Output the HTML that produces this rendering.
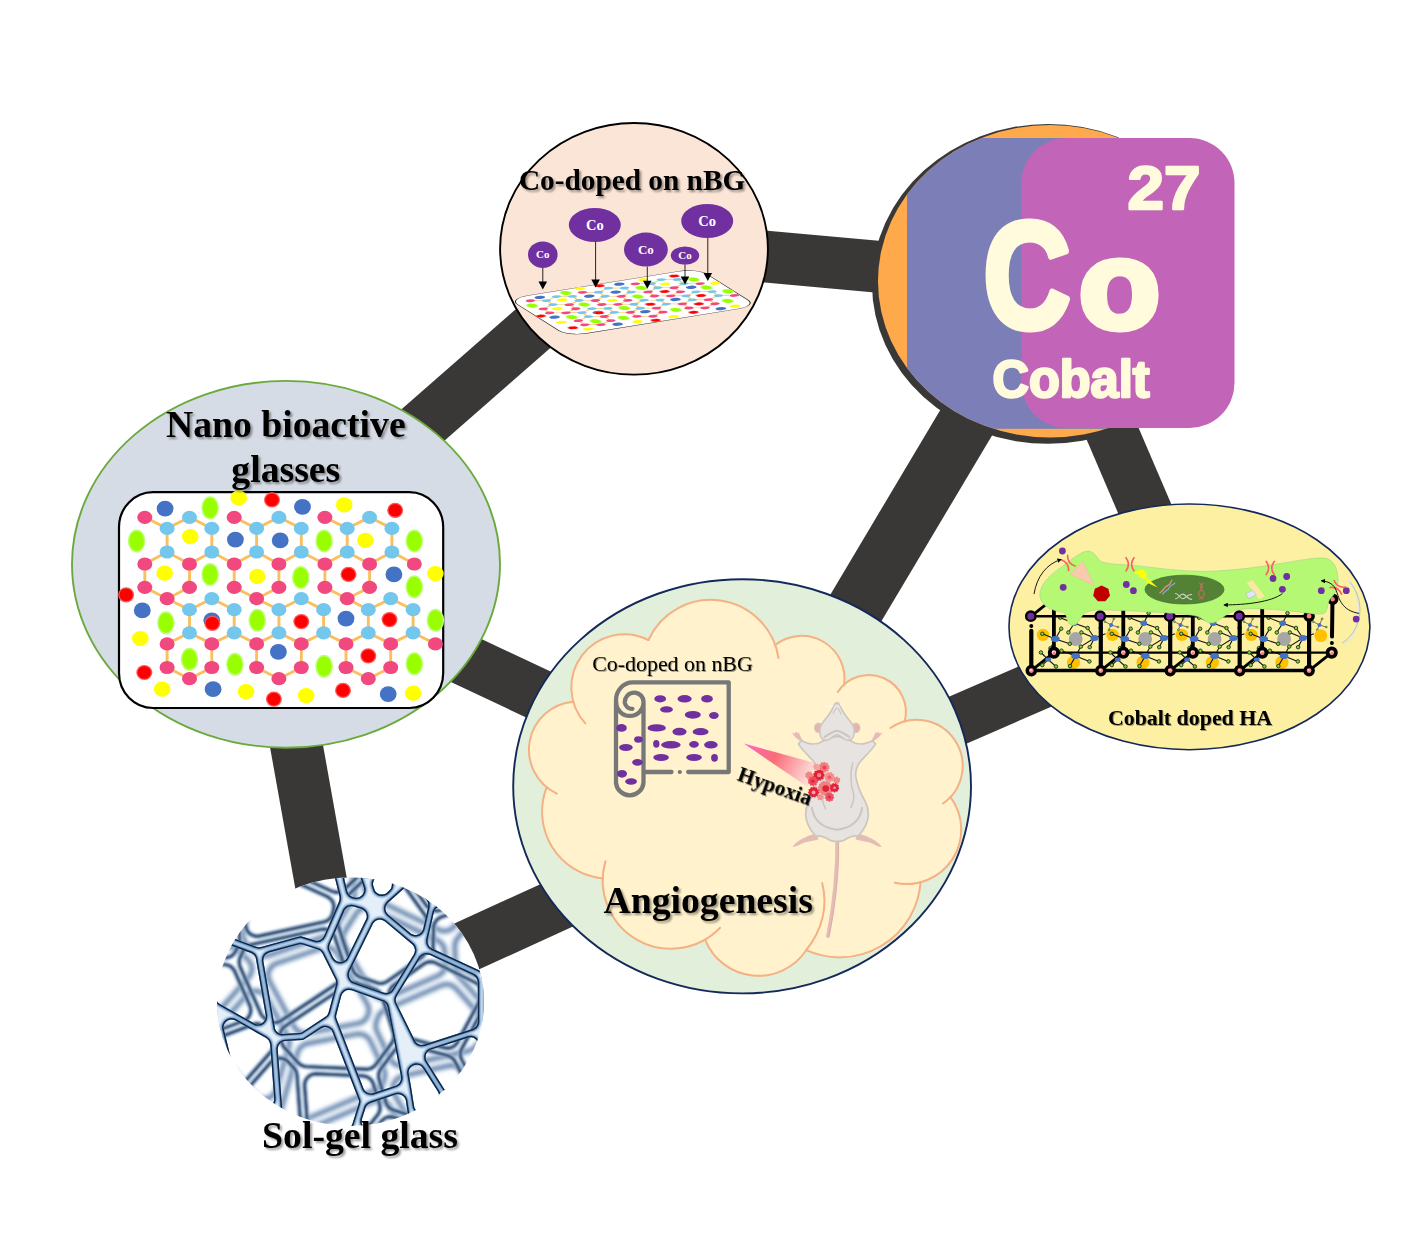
<!DOCTYPE html>
<html lang="en"><head><meta charset="utf-8"><title>Cobalt-doped nano bioactive glass</title>
<style>
html,body{margin:0;padding:0;background:#fff;}
body{width:1409px;height:1237px;overflow:hidden;}
svg{display:block}
text{font-family:"Liberation Serif",serif;}
.b{font-weight:bold}
.sans{font-family:"Liberation Sans",sans-serif;font-weight:bold}
</style></head><body>
<svg width="1409" height="1237" viewBox="0 0 1409 1237">
<defs>
<filter id="tsh" x="-10%" y="-20%" width="125%" height="150%">
  <feGaussianBlur in="SourceAlpha" stdDeviation="1.0"/>
  <feOffset dx="1.7" dy="1.7" result="o"/>
  <feComponentTransfer><feFuncA type="linear" slope="0.4"/></feComponentTransfer>
  <feMerge><feMergeNode/><feMergeNode in="SourceGraphic"/></feMerge>
</filter>
<filter id="tsh2" x="-10%" y="-20%" width="125%" height="150%">
  <feGaussianBlur in="SourceAlpha" stdDeviation="0.7"/>
  <feOffset dx="1.1" dy="1.1" result="o"/>
  <feComponentTransfer><feFuncA type="linear" slope="0.38"/></feComponentTransfer>
  <feMerge><feMergeNode/><feMergeNode in="SourceGraphic"/></feMerge>
</filter>
<filter id="soft" x="-20%" y="-20%" width="140%" height="140%"><feGaussianBlur stdDeviation="0.45"/></filter>
<clipPath id="coclip"><ellipse cx="1050" cy="281.25" rx="172" ry="156.25"/></clipPath><g id="lattice"><g stroke="#fbbf5f" stroke-width="2.9" stroke-linecap="butt"><line x1="34.8" y1="37.3" x2="57.1" y2="48.4"/><line x1="57.1" y1="48.4" x2="79.5" y2="37.3"/><line x1="124.2" y1="37.3" x2="146.6" y2="48.4"/><line x1="146.6" y1="48.4" x2="168.9" y2="37.3"/><line x1="214.9" y1="37.3" x2="237.2" y2="48.4"/><line x1="237.2" y1="48.4" x2="259.6" y2="37.3"/><line x1="79.5" y1="37.3" x2="101.8" y2="48.4"/><line x1="168.9" y1="37.3" x2="191.3" y2="48.4"/><line x1="259.6" y1="37.3" x2="281.9" y2="48.4"/><line x1="57.1" y1="48.4" x2="57.1" y2="72.0"/><line x1="101.8" y1="48.4" x2="101.8" y2="72.0"/><line x1="146.6" y1="48.4" x2="146.6" y2="72.0"/><line x1="191.3" y1="48.4" x2="191.3" y2="72.0"/><line x1="237.2" y1="48.4" x2="237.2" y2="72.0"/><line x1="281.9" y1="48.4" x2="281.9" y2="72.0"/><line x1="57.1" y1="72.0" x2="34.8" y2="84.0"/><line x1="57.1" y1="72.0" x2="79.5" y2="84.0"/><line x1="101.8" y1="72.0" x2="79.5" y2="84.0"/><line x1="101.8" y1="72.0" x2="124.2" y2="84.0"/><line x1="146.6" y1="72.0" x2="124.2" y2="84.0"/><line x1="146.6" y1="72.0" x2="168.9" y2="84.0"/><line x1="191.3" y1="72.0" x2="168.9" y2="84.0"/><line x1="191.3" y1="72.0" x2="214.9" y2="84.0"/><line x1="237.2" y1="72.0" x2="214.9" y2="84.0"/><line x1="237.2" y1="72.0" x2="259.6" y2="84.0"/><line x1="281.9" y1="72.0" x2="259.6" y2="84.0"/><line x1="281.9" y1="72.0" x2="304.3" y2="84.0"/><line x1="34.8" y1="84.0" x2="34.8" y2="107.3"/><line x1="79.5" y1="84.0" x2="79.5" y2="107.3"/><line x1="124.2" y1="84.0" x2="124.2" y2="107.3"/><line x1="168.9" y1="84.0" x2="168.9" y2="107.3"/><line x1="214.9" y1="84.0" x2="214.9" y2="107.3"/><line x1="259.6" y1="84.0" x2="259.6" y2="107.3"/><line x1="34.8" y1="107.3" x2="57.1" y2="118.7"/><line x1="79.5" y1="107.3" x2="57.1" y2="118.7"/><line x1="124.2" y1="107.3" x2="146.6" y2="118.7"/><line x1="168.9" y1="107.3" x2="146.6" y2="118.7"/><line x1="214.9" y1="107.3" x2="237.2" y2="118.7"/><line x1="259.6" y1="107.3" x2="237.2" y2="118.7"/><line x1="57.1" y1="118.7" x2="79.5" y2="129.7"/><line x1="101.8" y1="118.7" x2="79.5" y2="129.7"/><line x1="101.8" y1="118.7" x2="124.2" y2="129.7"/><line x1="146.6" y1="118.7" x2="168.9" y2="129.7"/><line x1="191.3" y1="118.7" x2="168.9" y2="129.7"/><line x1="191.3" y1="118.7" x2="213.6" y2="129.7"/><line x1="237.2" y1="118.7" x2="258.3" y2="129.7"/><line x1="280.7" y1="118.7" x2="258.3" y2="129.7"/><line x1="280.7" y1="118.7" x2="303.1" y2="129.7"/><line x1="79.5" y1="129.7" x2="79.5" y2="152.8"/><line x1="124.2" y1="129.7" x2="124.2" y2="152.8"/><line x1="168.9" y1="129.7" x2="168.9" y2="152.8"/><line x1="213.6" y1="129.7" x2="213.6" y2="152.8"/><line x1="258.3" y1="129.7" x2="258.3" y2="152.8"/><line x1="303.1" y1="129.7" x2="303.1" y2="152.8"/><line x1="79.5" y1="152.8" x2="57.1" y2="163.9"/><line x1="79.5" y1="152.8" x2="101.8" y2="163.9"/><line x1="124.2" y1="152.8" x2="101.8" y2="163.9"/><line x1="124.2" y1="152.8" x2="146.6" y2="163.9"/><line x1="168.9" y1="152.8" x2="146.6" y2="163.9"/><line x1="168.9" y1="152.8" x2="191.3" y2="163.9"/><line x1="213.6" y1="152.8" x2="191.3" y2="163.9"/><line x1="213.6" y1="152.8" x2="236.0" y2="163.9"/><line x1="258.3" y1="152.8" x2="236.0" y2="163.9"/><line x1="258.3" y1="152.8" x2="280.7" y2="163.9"/><line x1="303.1" y1="152.8" x2="280.7" y2="163.9"/><line x1="303.1" y1="152.8" x2="325.4" y2="163.9"/><line x1="57.1" y1="163.9" x2="57.1" y2="187.5"/><line x1="101.8" y1="163.9" x2="101.8" y2="187.5"/><line x1="146.6" y1="163.9" x2="146.6" y2="187.5"/><line x1="191.3" y1="163.9" x2="191.3" y2="187.5"/><line x1="236.0" y1="163.9" x2="236.0" y2="187.5"/><line x1="280.7" y1="163.9" x2="280.7" y2="187.5"/><line x1="57.1" y1="187.5" x2="79.5" y2="198.7"/><line x1="101.8" y1="187.5" x2="79.5" y2="198.7"/><line x1="146.6" y1="187.5" x2="168.9" y2="198.7"/><line x1="191.3" y1="187.5" x2="168.9" y2="198.7"/><line x1="236.0" y1="187.5" x2="258.3" y2="198.7"/><line x1="280.7" y1="187.5" x2="258.3" y2="198.7"/></g><ellipse cx="34.8" cy="37.3" rx="7.5" ry="6.6" fill="#f0487f"/><ellipse cx="79.5" cy="37.3" rx="7.5" ry="6.6" fill="#74c7ec"/><ellipse cx="124.2" cy="37.3" rx="7.5" ry="6.6" fill="#f0487f"/><ellipse cx="168.9" cy="37.3" rx="7.5" ry="6.6" fill="#74c7ec"/><ellipse cx="214.9" cy="37.3" rx="7.5" ry="6.6" fill="#f0487f"/><ellipse cx="259.6" cy="37.3" rx="7.5" ry="6.6" fill="#74c7ec"/><ellipse cx="57.1" cy="48.4" rx="7.5" ry="6.6" fill="#74c7ec"/><ellipse cx="101.8" cy="48.4" rx="7.5" ry="6.6" fill="#74c7ec"/><ellipse cx="146.6" cy="48.4" rx="7.5" ry="6.6" fill="#74c7ec"/><ellipse cx="191.3" cy="48.4" rx="7.5" ry="6.6" fill="#74c7ec"/><ellipse cx="237.2" cy="48.4" rx="7.5" ry="6.6" fill="#74c7ec"/><ellipse cx="281.9" cy="48.4" rx="7.5" ry="6.6" fill="#74c7ec"/><ellipse cx="57.1" cy="72.0" rx="7.5" ry="6.6" fill="#74c7ec"/><ellipse cx="101.8" cy="72.0" rx="7.5" ry="6.6" fill="#74c7ec"/><ellipse cx="146.6" cy="72.0" rx="7.5" ry="6.6" fill="#74c7ec"/><ellipse cx="191.3" cy="72.0" rx="7.5" ry="6.6" fill="#74c7ec"/><ellipse cx="237.2" cy="72.0" rx="7.5" ry="6.6" fill="#74c7ec"/><ellipse cx="281.9" cy="72.0" rx="7.5" ry="6.6" fill="#74c7ec"/><ellipse cx="34.8" cy="84.0" rx="7.5" ry="6.6" fill="#f0487f"/><ellipse cx="79.5" cy="84.0" rx="7.5" ry="6.6" fill="#f0487f"/><ellipse cx="124.2" cy="84.0" rx="7.5" ry="6.6" fill="#f0487f"/><ellipse cx="168.9" cy="84.0" rx="7.5" ry="6.6" fill="#f0487f"/><ellipse cx="214.9" cy="84.0" rx="7.5" ry="6.6" fill="#f0487f"/><ellipse cx="259.6" cy="84.0" rx="7.5" ry="6.6" fill="#f0487f"/><ellipse cx="304.3" cy="84.0" rx="7.5" ry="6.6" fill="#f0487f"/><ellipse cx="34.8" cy="107.3" rx="7.5" ry="6.6" fill="#f0487f"/><ellipse cx="79.5" cy="107.3" rx="7.5" ry="6.6" fill="#f0487f"/><ellipse cx="124.2" cy="107.3" rx="7.5" ry="6.6" fill="#f0487f"/><ellipse cx="168.9" cy="107.3" rx="7.5" ry="6.6" fill="#f0487f"/><ellipse cx="214.9" cy="107.3" rx="7.5" ry="6.6" fill="#f0487f"/><ellipse cx="259.6" cy="107.3" rx="7.5" ry="6.6" fill="#f0487f"/><ellipse cx="57.1" cy="118.7" rx="7.5" ry="6.6" fill="#f0487f"/><ellipse cx="101.8" cy="118.7" rx="7.5" ry="6.6" fill="#74c7ec"/><ellipse cx="146.6" cy="118.7" rx="7.5" ry="6.6" fill="#f0487f"/><ellipse cx="191.3" cy="118.7" rx="7.5" ry="6.6" fill="#74c7ec"/><ellipse cx="237.2" cy="118.7" rx="7.5" ry="6.6" fill="#f0487f"/><ellipse cx="280.7" cy="118.7" rx="7.5" ry="6.6" fill="#74c7ec"/><ellipse cx="79.5" cy="129.7" rx="7.5" ry="6.6" fill="#74c7ec"/><ellipse cx="124.2" cy="129.7" rx="7.5" ry="6.6" fill="#74c7ec"/><ellipse cx="168.9" cy="129.7" rx="7.5" ry="6.6" fill="#74c7ec"/><ellipse cx="213.6" cy="129.7" rx="7.5" ry="6.6" fill="#74c7ec"/><ellipse cx="258.3" cy="129.7" rx="7.5" ry="6.6" fill="#74c7ec"/><ellipse cx="303.1" cy="129.7" rx="7.5" ry="6.6" fill="#74c7ec"/><ellipse cx="79.5" cy="152.8" rx="7.5" ry="6.6" fill="#74c7ec"/><ellipse cx="124.2" cy="152.8" rx="7.5" ry="6.6" fill="#74c7ec"/><ellipse cx="168.9" cy="152.8" rx="7.5" ry="6.6" fill="#74c7ec"/><ellipse cx="213.6" cy="152.8" rx="7.5" ry="6.6" fill="#74c7ec"/><ellipse cx="258.3" cy="152.8" rx="7.5" ry="6.6" fill="#74c7ec"/><ellipse cx="303.1" cy="152.8" rx="7.5" ry="6.6" fill="#74c7ec"/><ellipse cx="57.1" cy="163.9" rx="7.5" ry="6.6" fill="#f0487f"/><ellipse cx="101.8" cy="163.9" rx="7.5" ry="6.6" fill="#f0487f"/><ellipse cx="146.6" cy="163.9" rx="7.5" ry="6.6" fill="#f0487f"/><ellipse cx="191.3" cy="163.9" rx="7.5" ry="6.6" fill="#f0487f"/><ellipse cx="236.0" cy="163.9" rx="7.5" ry="6.6" fill="#f0487f"/><ellipse cx="280.7" cy="163.9" rx="7.5" ry="6.6" fill="#f0487f"/><ellipse cx="325.4" cy="163.9" rx="7.5" ry="6.6" fill="#f0487f"/><ellipse cx="57.1" cy="187.5" rx="7.5" ry="6.6" fill="#f0487f"/><ellipse cx="101.8" cy="187.5" rx="7.5" ry="6.6" fill="#f0487f"/><ellipse cx="146.6" cy="187.5" rx="7.5" ry="6.6" fill="#f0487f"/><ellipse cx="191.3" cy="187.5" rx="7.5" ry="6.6" fill="#f0487f"/><ellipse cx="236.0" cy="187.5" rx="7.5" ry="6.6" fill="#f0487f"/><ellipse cx="280.7" cy="187.5" rx="7.5" ry="6.6" fill="#f0487f"/><ellipse cx="79.5" cy="198.7" rx="7.5" ry="6.6" fill="#f0487f"/><ellipse cx="168.9" cy="198.7" rx="7.5" ry="6.6" fill="#f0487f"/><ellipse cx="258.3" cy="198.7" rx="7.5" ry="6.6" fill="#f0487f"/><ellipse cx="55.1" cy="28.6" rx="8.4" ry="7.9" fill="#4472c4"/><ellipse cx="192.5" cy="26.8" rx="8.4" ry="7.9" fill="#4472c4"/><ellipse cx="125.4" cy="59.6" rx="8.4" ry="7.9" fill="#4472c4"/><ellipse cx="170.2" cy="60.4" rx="8.4" ry="7.9" fill="#4472c4"/><ellipse cx="283.9" cy="94.4" rx="8.4" ry="7.9" fill="#4472c4"/><ellipse cx="32.3" cy="130.4" rx="8.4" ry="7.9" fill="#4472c4"/><ellipse cx="101.8" cy="140.3" rx="8.4" ry="7.9" fill="#4472c4"/><ellipse cx="236.0" cy="138.6" rx="8.4" ry="7.9" fill="#4472c4"/><ellipse cx="168.4" cy="171.9" rx="8.4" ry="7.9" fill="#4472c4"/><ellipse cx="103.1" cy="209.2" rx="8.4" ry="7.9" fill="#4472c4"/><ellipse cx="278.2" cy="214.1" rx="8.4" ry="7.9" fill="#4472c4"/><g filter="url(#soft)"><ellipse cx="100.1" cy="27.8" rx="8.8" ry="11.5" fill="#bcff73"/><ellipse cx="100.1" cy="27.8" rx="7.3" ry="10" fill="#99ff00"/><ellipse cx="26.6" cy="60.9" rx="8.8" ry="11.5" fill="#bcff73"/><ellipse cx="26.6" cy="60.9" rx="7.3" ry="10" fill="#99ff00"/><ellipse cx="214.1" cy="60.9" rx="8.8" ry="11.5" fill="#bcff73"/><ellipse cx="214.1" cy="60.9" rx="7.3" ry="10" fill="#99ff00"/><ellipse cx="304.3" cy="60.9" rx="8.8" ry="11.5" fill="#bcff73"/><ellipse cx="304.3" cy="60.9" rx="7.3" ry="10" fill="#99ff00"/><ellipse cx="100.1" cy="94.4" rx="8.8" ry="11.5" fill="#bcff73"/><ellipse cx="100.1" cy="94.4" rx="7.3" ry="10" fill="#99ff00"/><ellipse cx="190.8" cy="97.4" rx="8.8" ry="11.5" fill="#bcff73"/><ellipse cx="190.8" cy="97.4" rx="7.3" ry="10" fill="#99ff00"/><ellipse cx="304.3" cy="106.8" rx="8.8" ry="11.5" fill="#bcff73"/><ellipse cx="304.3" cy="106.8" rx="7.3" ry="10" fill="#99ff00"/><ellipse cx="55.9" cy="142.8" rx="8.8" ry="11.5" fill="#bcff73"/><ellipse cx="55.9" cy="142.8" rx="7.3" ry="10" fill="#99ff00"/><ellipse cx="147.3" cy="140.3" rx="8.8" ry="11.5" fill="#bcff73"/><ellipse cx="147.3" cy="140.3" rx="7.3" ry="10" fill="#99ff00"/><ellipse cx="325.4" cy="140.3" rx="8.8" ry="11.5" fill="#bcff73"/><ellipse cx="325.4" cy="140.3" rx="7.3" ry="10" fill="#99ff00"/><ellipse cx="79.5" cy="179.3" rx="8.8" ry="11.5" fill="#bcff73"/><ellipse cx="79.5" cy="179.3" rx="7.3" ry="10" fill="#99ff00"/><ellipse cx="124.9" cy="184.3" rx="8.8" ry="11.5" fill="#bcff73"/><ellipse cx="124.9" cy="184.3" rx="7.3" ry="10" fill="#99ff00"/><ellipse cx="214.1" cy="186.3" rx="8.8" ry="11.5" fill="#bcff73"/><ellipse cx="214.1" cy="186.3" rx="7.3" ry="10" fill="#99ff00"/><ellipse cx="304.3" cy="183.8" rx="8.8" ry="11.5" fill="#bcff73"/><ellipse cx="304.3" cy="183.8" rx="7.3" ry="10" fill="#99ff00"/><ellipse cx="162.0" cy="19.9" rx="8" ry="7.6" fill="#ff5555"/><ellipse cx="162.0" cy="19.9" rx="6.7" ry="6.3" fill="#ff0000"/><ellipse cx="285.2" cy="30.3" rx="8" ry="7.6" fill="#ff5555"/><ellipse cx="285.2" cy="30.3" rx="6.7" ry="6.3" fill="#ff0000"/><ellipse cx="238.5" cy="94.4" rx="8" ry="7.6" fill="#ff5555"/><ellipse cx="238.5" cy="94.4" rx="6.7" ry="6.3" fill="#ff0000"/><ellipse cx="16.1" cy="114.8" rx="8" ry="7.6" fill="#ff5555"/><ellipse cx="16.1" cy="114.8" rx="6.7" ry="6.3" fill="#ff0000"/><ellipse cx="102.3" cy="143.3" rx="8" ry="7.6" fill="#ff5555"/><ellipse cx="102.3" cy="143.3" rx="6.7" ry="6.3" fill="#ff0000"/><ellipse cx="191.3" cy="141.6" rx="8" ry="7.6" fill="#ff5555"/><ellipse cx="191.3" cy="141.6" rx="6.7" ry="6.3" fill="#ff0000"/><ellipse cx="279.5" cy="139.6" rx="8" ry="7.6" fill="#ff5555"/><ellipse cx="279.5" cy="139.6" rx="6.7" ry="6.3" fill="#ff0000"/><ellipse cx="258.3" cy="175.9" rx="8" ry="7.6" fill="#ff5555"/><ellipse cx="258.3" cy="175.9" rx="6.7" ry="6.3" fill="#ff0000"/><ellipse cx="34.3" cy="192.5" rx="8" ry="7.6" fill="#ff5555"/><ellipse cx="34.3" cy="192.5" rx="6.7" ry="6.3" fill="#ff0000"/><ellipse cx="233.0" cy="210.4" rx="8" ry="7.6" fill="#ff5555"/><ellipse cx="233.0" cy="210.4" rx="6.7" ry="6.3" fill="#ff0000"/><ellipse cx="163.9" cy="219.1" rx="8" ry="7.6" fill="#ff5555"/><ellipse cx="163.9" cy="219.1" rx="6.7" ry="6.3" fill="#ff0000"/></g><ellipse cx="128.7" cy="17.9" rx="8.3" ry="7.6" fill="#ffff00"/><ellipse cx="234.2" cy="24.8" rx="8.3" ry="7.6" fill="#ffff00"/><ellipse cx="80.2" cy="56.6" rx="8.3" ry="7.6" fill="#ffff00"/><ellipse cx="255.4" cy="60.4" rx="8.3" ry="7.6" fill="#ffff00"/><ellipse cx="54.6" cy="93.2" rx="8.3" ry="7.6" fill="#ffff00"/><ellipse cx="147.3" cy="96.4" rx="8.3" ry="7.6" fill="#ffff00"/><ellipse cx="325.4" cy="93.6" rx="8.3" ry="7.6" fill="#ffff00"/><ellipse cx="30.3" cy="158.5" rx="8.3" ry="7.6" fill="#ffff00"/><ellipse cx="52.2" cy="209.2" rx="8.3" ry="7.6" fill="#ffff00"/><ellipse cx="136.1" cy="211.6" rx="8.3" ry="7.6" fill="#ffff00"/><ellipse cx="196.2" cy="215.6" rx="8.3" ry="7.6" fill="#ffff00"/><ellipse cx="303.1" cy="213.1" rx="8.3" ry="7.6" fill="#ffff00"/></g><linearGradient id="beam" gradientUnits="userSpaceOnUse" x1="743.7" y1="743.6" x2="812" y2="775"><stop offset="0" stop-color="#ff66c4"/><stop offset="0.45" stop-color="#fb6c78"/><stop offset="1" stop-color="#fde0dc"/></linearGradient><clipPath id="haclip"><ellipse cx="1189.45" cy="626.85" rx="179.6" ry="122"/></clipPath><g id="hacell"><circle cx="11.7" cy="-35.7" r="6.2" fill="#ffc000"/><circle cx="42.2" cy="-8.2" r="6.6" fill="#ffc000"/><circle cx="44.4" cy="-31.6" r="6.9" fill="#a6a6a6"/><g stroke="#111" stroke-width="1.1"><line x1="24.0" y1="-31.6" x2="11.0" y2="-36.8"/><line x1="24.0" y1="-31.6" x2="29.9" y2="-41.9"/><line x1="24.0" y1="-31.6" x2="38.5" y2="-26.8"/><line x1="24.0" y1="-31.6" x2="19.2" y2="-22.4"/><line x1="63.2" y1="-32.6" x2="50.1" y2="-38.1"/><line x1="63.2" y1="-32.6" x2="56.3" y2="-42.6"/><line x1="63.2" y1="-32.6" x2="58.4" y2="-23.4"/><line x1="63.2" y1="-32.6" x2="49.5" y2="-24.0"/><line x1="63.2" y1="-32.6" x2="74.2" y2="-36.8"/><line x1="44.4" y1="-14.7" x2="30.2" y2="-19.9"/><line x1="44.4" y1="-14.7" x2="38.7" y2="-4.5"/><line x1="44.4" y1="-14.7" x2="58.1" y2="-9.2"/><line x1="44.4" y1="-14.7" x2="49.5" y2="-24.0"/><line x1="43.0" y1="-47.4" x2="37.1" y2="-38.1"/><line x1="43.0" y1="-47.4" x2="28.9" y2="-52.9"/><line x1="43.0" y1="-47.4" x2="47.8" y2="-57.4"/><line x1="43.0" y1="-47.4" x2="56.3" y2="-42.6"/><line x1="16.9" y1="-11.0" x2="9.6" y2="-18.1"/><line x1="16.9" y1="-11.0" x2="11.0" y2="-5.5"/><line x1="16.9" y1="-11.0" x2="24.7" y2="-4.1"/><line x1="16.9" y1="-11.0" x2="19.2" y2="-22.4"/></g><ellipse cx="24.0" cy="-31.6" rx="4.4" ry="3.0" fill="#4472c4"/><ellipse cx="63.2" cy="-32.6" rx="4.1" ry="3.0" fill="#4472c4"/><ellipse cx="44.4" cy="-14.7" rx="4.4" ry="3.0" fill="#4472c4"/><ellipse cx="43.0" cy="-47.4" rx="3.4" ry="2.7" fill="#4472c4"/><ellipse cx="16.9" cy="-11.0" rx="3.0" ry="2.2" fill="#4472c4"/><circle cx="11.0" cy="-36.8" r="1.75" fill="#7fd04f" stroke="#1c3a10" stroke-width="0.95"/><circle cx="29.9" cy="-41.9" r="1.75" fill="#7fd04f" stroke="#1c3a10" stroke-width="0.95"/><circle cx="37.1" cy="-38.1" r="1.75" fill="#7fd04f" stroke="#1c3a10" stroke-width="0.95"/><circle cx="50.1" cy="-38.1" r="1.75" fill="#7fd04f" stroke="#1c3a10" stroke-width="0.95"/><circle cx="56.3" cy="-42.6" r="1.75" fill="#7fd04f" stroke="#1c3a10" stroke-width="0.95"/><circle cx="38.5" cy="-26.8" r="1.75" fill="#7fd04f" stroke="#1c3a10" stroke-width="0.95"/><circle cx="49.5" cy="-24.0" r="1.75" fill="#7fd04f" stroke="#1c3a10" stroke-width="0.95"/><circle cx="58.4" cy="-23.4" r="1.75" fill="#7fd04f" stroke="#1c3a10" stroke-width="0.95"/><circle cx="19.2" cy="-22.4" r="1.75" fill="#7fd04f" stroke="#1c3a10" stroke-width="0.95"/><circle cx="30.2" cy="-19.9" r="1.75" fill="#7fd04f" stroke="#1c3a10" stroke-width="0.95"/><circle cx="9.6" cy="-18.1" r="1.75" fill="#7fd04f" stroke="#1c3a10" stroke-width="0.95"/><circle cx="11.0" cy="-5.5" r="1.75" fill="#7fd04f" stroke="#1c3a10" stroke-width="0.95"/><circle cx="24.7" cy="-4.1" r="1.75" fill="#7fd04f" stroke="#1c3a10" stroke-width="0.95"/><circle cx="38.7" cy="-4.5" r="1.75" fill="#7fd04f" stroke="#1c3a10" stroke-width="0.95"/><circle cx="58.1" cy="-9.2" r="1.75" fill="#7fd04f" stroke="#1c3a10" stroke-width="0.95"/><circle cx="28.9" cy="-52.9" r="1.75" fill="#7fd04f" stroke="#1c3a10" stroke-width="0.95"/><circle cx="47.8" cy="-57.4" r="1.75" fill="#7fd04f" stroke="#1c3a10" stroke-width="0.95"/><circle cx="69.4" cy="-42.6" r="1.75" fill="#7fd04f" stroke="#1c3a10" stroke-width="0.95"/></g><g id="hastar"><g stroke="#223" stroke-width="0.6"><line x1="0" y1="0" x2="-6.2" y2="-3.4"/><line x1="0" y1="0" x2="2.7" y2="-6.2"/><line x1="0" y1="0" x2="6.9" y2="2.1"/><line x1="0" y1="0" x2="-2.1" y2="4.8"/></g><circle cx="-6.2" cy="-3.4" r="1" fill="#7fd04f" stroke="#1c3a10" stroke-width="0.4"/><circle cx="2.7" cy="-6.2" r="1" fill="#7fd04f" stroke="#1c3a10" stroke-width="0.4"/><circle cx="6.9" cy="2.1" r="1" fill="#7fd04f" stroke="#1c3a10" stroke-width="0.4"/><circle cx="-2.1" cy="4.8" r="1" fill="#7fd04f" stroke="#1c3a10" stroke-width="0.4"/><circle r="2" fill="#4472c4"/></g><marker id="ah" viewBox="0 0 10 10" refX="8" refY="5" markerWidth="5" markerHeight="5" orient="auto-start-reverse"><path d="M0,0 L10,5 L0,10 z" fill="#000"/></marker><clipPath id="sgclip"><ellipse cx="350.5" cy="1001.7" rx="133.5" ry="124.3"/></clipPath><filter id="sgblur" x="-10%" y="-10%" width="120%" height="120%"><feGaussianBlur stdDeviation="1.3"/></filter><filter id="sgblur2" x="-5%" y="-5%" width="110%" height="110%"><feGaussianBlur stdDeviation="0.45"/></filter><filter id="sgblur3" x="-10%" y="-10%" width="120%" height="120%"><feGaussianBlur stdDeviation="2.2"/></filter><clipPath id="strutclip"><path d="M200,860H500V1140H200Z M353.7,906.6 L351.4,906.2 L348.4,906.8 L346.4,908.0 L344.8,909.7 L329.4,945.0 L329.0,947.2 L329.3,949.5 L333.1,957.6 L335.0,960.0 L336.9,961.2 L338.4,961.8 L340.7,962.0 L342.9,961.5 L345.6,960.0 L347.0,958.2 L366.5,918.5 L366.8,916.2 L366.4,914.0 L365.7,912.5 L364.3,910.7 L361.8,909.0Z M385.1,921.5 L382.3,919.9 L379.1,919.6 L376.8,920.2 L375.4,921.0 L373.2,923.3 L349.6,971.2 L348.9,973.5 L348.8,975.0 L349.0,976.6 L349.9,978.8 L351.4,980.7 L353.3,982.0 L383.1,992.5 L386.1,993.0 L388.4,992.5 L389.8,991.9 L391.1,991.0 L392.5,989.2 L413.8,954.4 L414.7,952.2 L415.0,949.8 L414.1,946.7 L412.7,944.7Z M351.7,990.3 L348.6,989.9 L346.4,990.3 L344.3,991.4 L342.2,993.7 L341.3,995.8 L336.4,1014.4 L336.1,1016.0 L336.2,1017.7 L336.7,1019.3 L363.7,1089.1 L365.0,1090.9 L367.5,1092.7 L370.4,1093.4 L372.7,1093.3 L396.4,1085.4 L398.3,1084.1 L399.4,1083.0 L400.5,1081.1 L401.0,1079.6 L401.0,1076.5 L387.6,1007.2 L386.9,1005.1 L386.1,1003.8 L384.4,1002.3 L383.1,1001.5Z M269.2,952.5 L266.4,953.9 L264.7,955.6 L263.7,957.7 L263.3,960.8 L275.1,1029.0 L276.2,1031.0 L277.9,1032.6 L280.0,1033.7 L281.5,1034.0 L299.3,1032.9 L301.7,1032.4 L325.4,1016.7 L326.7,1015.7 L327.7,1014.4 L328.7,1012.1 L336.0,984.7 L336.2,982.2 L335.7,979.8 L322.3,952.9 L320.7,951.1 L318.7,949.8 L302.6,944.6 L299.5,944.3Z M430.1,955.1 L427.1,954.4 L424.8,954.6 L422.6,955.5 L420.3,957.5 L396.9,995.7 L396.0,997.9 L395.7,999.5 L396.0,1001.9 L396.6,1003.4 L415.1,1041.1 L416.0,1042.4 L417.7,1043.8 L419.8,1044.7 L421.3,1044.9 L424.3,1044.6 L473.0,1028.8 L475.0,1027.6 L476.1,1026.5 L477.2,1024.5 L477.8,1022.3 L477.8,982.4 L477.2,979.4 L476.1,977.4 L474.5,975.9 L473.2,975.1Z M388.0,902.7 L386.1,905.2 L385.3,908.3 L385.9,911.5 L387.1,913.5 L388.2,914.7 L411.5,934.1 L414.5,935.0 L416.8,935.0 L419.7,933.8 L421.4,932.3 L422.3,931.0 L423.2,928.9 L428.2,906.9 L428.2,903.7 L427.8,902.2 L426.6,900.1 L414.4,887.9 L412.3,886.7 L409.9,886.1 L407.5,886.3 L405.3,887.2Z M256.1,946.7 L258.6,947.2 L261.0,946.9 L300.1,936.2 L301.9,936.5 L315.8,940.8 L317.4,940.8 L319.7,940.3 L322.3,938.6 L324.1,936.0 L339.0,901.6 L339.6,899.4 L339.5,896.4 L335.1,878.8 L334.1,876.6 L333.2,875.4 L331.4,873.9 L329.9,873.2 L327.6,872.8 L326.0,872.9 L275.3,886.4 L273.7,887.2 L238.8,910.7 L237.4,912.4 L228.9,927.5 L228.4,929.0 L228.2,931.3 L228.9,934.3 L230.2,936.2 L232.7,938.0Z M226.8,943.9 L224.5,943.5 L221.4,943.9 L219.4,944.9 L217.7,946.5 L206.8,968.0 L206.1,970.3 L206.1,972.8 L206.5,974.4 L215.9,999.5 L217.6,1002.2 L219.4,1003.7 L253.9,1023.3 L255.3,1024.0 L257.6,1024.4 L260.7,1023.9 L262.7,1022.7 L264.3,1021.0 L265.4,1018.9 L265.8,1015.8 L255.7,957.6 L254.2,955.0 L251.7,953.2Z M285.1,1041.1 L282.8,1041.6 L280.2,1043.3 L278.4,1045.8 L277.7,1048.9 L282.5,1112.8 L282.9,1115.0 L284.0,1117.0 L286.3,1119.0 L289.1,1120.1 L343.4,1129.4 L346.5,1129.3 L349.3,1128.1 L351.4,1126.0 L352.4,1123.9 L358.6,1104.0 L359.0,1101.8 L358.9,1100.2 L332.6,1032.2 L331.5,1030.1 L329.7,1028.5 L327.6,1027.5 L325.3,1027.1 L323.7,1027.2 L320.8,1028.4 L303.9,1039.6 L302.6,1039.9Z M468.7,1037.4 L429.6,1050.1 L427.8,1051.5 L426.1,1054.0 L425.5,1057.0 L426.0,1060.0 L444.2,1088.9 L446.4,1091.1 L449.2,1092.4 L452.3,1092.5 L473.7,1088.9 L475.8,1088.0 L478.0,1085.9 L479.3,1083.2 L479.6,1080.9 L478.3,1044.9 L477.6,1041.9 L476.4,1039.9 L475.3,1038.9 L473.9,1038.0 L471.7,1037.3Z M423.2,1068.4 L421.1,1066.1 L419.0,1065.1 L416.6,1064.7 L414.3,1065.0 L411.5,1066.5 L409.9,1068.2 L408.9,1070.3 L408.5,1072.6 L410.9,1086.1 L414.3,1107.4 L415.4,1109.5 L417.2,1111.1 L419.3,1112.2 L421.7,1112.6 L424.8,1112.0 L427.4,1110.3 L437.1,1100.5 L438.6,1097.8 L439.0,1095.5 L438.7,1093.3 L437.7,1091.2Z M347.3,891.3 L348.1,893.4 L350.1,895.7 L352.0,896.8 L355.5,897.7 L358.6,897.4 L360.8,896.3 L362.5,894.7 L363.7,892.6 L364.2,890.3 L364.0,887.9 L359.9,875.8 L358.4,873.2 L356.7,871.7 L355.3,871.0 L352.3,870.4 L349.1,871.1 L346.5,872.9 L344.8,875.6 L344.3,877.9 L344.4,879.6Z M373.0,885.0 L374.9,890.7 L376.4,892.5 L379.1,894.2 L382.2,894.6 L385.2,893.9 L386.6,893.1 L389.3,890.6 L391.2,888.2 L391.9,885.1 L391.9,883.6 L391.2,881.4 L389.4,878.8 L386.7,877.2 L381.3,875.9 L379.8,876.0 L377.5,876.7 L376.2,877.5 L374.5,879.1 L373.2,881.9Z M442.7,906.3 L440.3,906.3 L437.4,907.4 L435.6,908.9 L434.0,911.7 L427.5,940.3 L427.7,943.4 L429.1,946.2 L430.1,947.3 L432.1,948.6 L480.1,970.8 L481.7,971.2 L484.1,971.2 L490.8,969.9 L493.6,968.5 L495.2,966.8 L496.2,964.6 L496.6,962.3 L496.3,960.0 L478.4,915.2 L477.3,913.2 L475.0,911.3 L472.8,910.4Z M370.4,1102.9 L367.7,1104.4 L365.9,1106.7 L361.7,1119.7 L361.7,1122.8 L362.5,1125.1 L363.9,1127.0 L365.8,1128.4 L368.0,1129.2 L370.3,1129.3 L402.1,1125.9 L405.0,1124.7 L406.2,1123.6 L407.6,1121.7 L408.2,1120.1 L408.4,1117.7 L405.8,1100.2 L405.3,1098.7 L404.0,1096.8 L401.5,1094.9 L399.3,1094.2 L396.3,1094.3Z M235.4,1020.6 L233.3,1019.7 L231.0,1019.5 L228.7,1020.0 L227.3,1020.7 L225.5,1022.2 L224.3,1024.1 L223.7,1025.5 L223.5,1027.8 L237.7,1086.6 L238.9,1088.7 L240.6,1090.4 L262.3,1105.9 L264.4,1106.7 L266.0,1106.9 L269.1,1106.4 L271.1,1105.2 L272.8,1103.5 L273.8,1101.4 L274.2,1099.1 L270.2,1044.4 L269.6,1042.2 L268.5,1040.1 L266.2,1038.1Z M487.9,978.6 L486.4,979.5 L485.8,981.1 L485.9,1024.3 L486.6,1025.6 L487.6,1026.2 L496.7,1027.9 L497.7,1027.9 L499.1,1027.0 L499.7,1025.4 L499.6,979.0 L498.8,977.5 L497.2,976.9Z M433.0,896.8 L434.6,898.3 L435.9,898.6 L437.6,898.2 L438.3,897.5 L438.7,896.6 L438.7,895.6 L438.3,894.7 L437.4,893.8 L435.8,893.2 L434.8,893.2 L433.9,893.5 L433.0,894.4 L432.7,895.6Z" clip-rule="evenodd"/></clipPath><filter id="sgblur4" x="-5%" y="-5%" width="110%" height="110%"><feGaussianBlur stdDeviation="0.9"/></filter></defs>
<rect width="1409" height="1237" fill="#fff"/>
<polygon points="702.9,277.0 932.4,297.8 937.1,246.0 707.6,225.2" fill="#3a3837"/>
<polygon points="560.0,270.4 360.7,445.0 395.0,484.1 594.3,309.5" fill="#3a3837"/>
<polygon points="418.4,666.8 564.6,735.5 586.8,688.5 440.6,619.8" fill="#3a3837"/>
<polygon points="263.7,711.8 302.2,927.0 353.9,917.8 315.4,702.6" fill="#3a3837"/>
<polygon points="442.0,986.3 603.0,912.7 581.4,865.4 420.4,939.0" fill="#3a3837"/>
<polygon points="966.9,365.3 810.8,627.4 860.2,656.8 1016.3,394.8" fill="#3a3837"/>
<polygon points="1073.2,408.3 1131.7,544.9 1179.9,524.2 1121.3,387.6" fill="#3a3837"/>
<polygon points="931.3,758.9 1080.6,694.0 1060.7,648.1 911.4,713.0" fill="#3a3837"/>
<ellipse cx="634" cy="248.8" rx="133.9" ry="125.8" fill="#fbe5d6" stroke="#000" stroke-width="1.9"/>
<g transform="matrix(0.5820 -0.0940 0.2760 0.1740 499.87 297.54)"><rect x="9" y="12" width="325" height="216" rx="33" fill="#fff" stroke="#222" stroke-width="1.6"/><use href="#lattice"/></g>
<line x1="542.8" y1="268.0" x2="542.8" y2="283.6" stroke="#000" stroke-width="0.85"/>
<polygon points="538.5,281.6 547.1,281.6 542.8,289.6" fill="#000"/>
<line x1="595.6" y1="241.0" x2="595.6" y2="281.4" stroke="#000" stroke-width="0.85"/>
<polygon points="591.3,279.4 599.9,279.4 595.6,287.4" fill="#000"/>
<line x1="647.3" y1="266.6" x2="647.3" y2="282.8" stroke="#000" stroke-width="0.85"/>
<polygon points="643.0,280.8 651.6,280.8 647.3,288.8" fill="#000"/>
<line x1="685.0" y1="264.7" x2="685.0" y2="278.5" stroke="#000" stroke-width="0.85"/>
<polygon points="680.7,276.5 689.3,276.5 685.0,284.5" fill="#000"/>
<line x1="707.8" y1="237.4" x2="707.8" y2="275.0" stroke="#000" stroke-width="0.85"/>
<polygon points="703.5,273.0 712.1,273.0 707.8,281.0" fill="#000"/>
<ellipse cx="542.8" cy="254.7" rx="14.8" ry="13.3" fill="#7030a0"/>
<text x="542.8" y="258.2" class="b" font-size="11.0" fill="#fff" text-anchor="middle">Co</text>
<ellipse cx="594.8" cy="225.0" rx="26.0" ry="17.0" fill="#7030a0"/>
<text x="594.8" y="229.6" class="b" font-size="14.5" fill="#fff" text-anchor="middle">Co</text>
<ellipse cx="645.9" cy="249.6" rx="21.9" ry="17.0" fill="#7030a0"/>
<text x="645.9" y="253.8" class="b" font-size="13.0" fill="#fff" text-anchor="middle">Co</text>
<ellipse cx="685.0" cy="255.6" rx="14.2" ry="9.2" fill="#7030a0"/>
<text x="685.0" y="259.1" class="b" font-size="11.0" fill="#fff" text-anchor="middle">Co</text>
<ellipse cx="707.2" cy="221.0" rx="26.0" ry="17.0" fill="#7030a0"/>
<text x="707.2" y="225.6" class="b" font-size="14.5" fill="#fff" text-anchor="middle">Co</text>
<text x="632.1" y="189.5" class="b" font-size="29.3" text-anchor="middle" filter="url(#tsh)">Co-doped on nBG</text>
<ellipse cx="1048" cy="283.9" rx="176" ry="159.9" fill="#3a3837"/>
<ellipse cx="1050" cy="281.25" rx="172" ry="156.25" fill="#fea94b"/>
<rect x="907" y="138" width="290" height="290.8" fill="#7c7eb8" clip-path="url(#coclip)"/>
<rect x="1021.5" y="138" width="213" height="290" rx="45" ry="45" fill="#c264b8"/>
<g fill="#fffbdc" stroke="#fffbdc" stroke-linejoin="round">
<text class="sans" x="1127.6" y="209" font-size="62" stroke-width="2.5" textLength="73" lengthAdjust="spacingAndGlyphs">27</text>
<text class="sans" y="327.5" stroke-width="7"><tspan x="983.6" font-size="150.0" textLength="87.0" lengthAdjust="spacingAndGlyphs">C</tspan><tspan x="1079.0" font-size="124.0" textLength="81.0" lengthAdjust="spacingAndGlyphs">o</tspan></text>
<text class="sans" x="992.5" y="397" font-size="51" stroke-width="2.5" textLength="157" lengthAdjust="spacingAndGlyphs">Cobalt</text>
</g>
<ellipse cx="286" cy="564.3" rx="214" ry="183.4" fill="#d6dce5" stroke="#6aaa3c" stroke-width="1.9"/>
<rect x="119" y="492.2" width="324.2" height="215.8" rx="34" ry="35" fill="#fff" stroke="#000" stroke-width="2.2"/>
<use href="#lattice" x="110" y="480"/>
<g filter="url(#tsh)" class="b" font-size="37.7" text-anchor="middle"><text x="285.8" y="437.2">Nano bioactive</text><text x="285.8" y="482">glasses</text></g>
<ellipse cx="742.1" cy="786.3" rx="228.9" ry="207.1" fill="#e2efda" stroke="#14295a" stroke-width="1.9"/>
<path d="M546.7,787.1 A48.3,48.3 0 0 1 573.4,701.7 A53.1,53.1 0 0 1 648.4,640.0 A68.5,68.5 0 0 1 775.2,645.0 A42.9,42.9 0 0 1 844.2,684.4 A37.0,37.0 0 0 1 904.6,721.8 A46.0,46.0 0 0 1 950.3,796.8 A54.5,54.5 0 0 1 920.6,882.2 A81.2,81.2 0 0 1 806.2,950.2 A57.4,57.4 0 0 1 705.1,939.6 A68.2,68.2 0 0 1 602.7,878.5 A67.2,67.2 0 0 1 546.7,787.1 Z" fill="#fff2cc"/>
<path d="M556.8,793.6 A48.3,48.3 0 0 1 573.4,701.7" fill="none" stroke="#f4b183" stroke-width="2" stroke-linecap="round"/>
<path d="M585.4,723.4 A53.1,53.1 0 0 1 648.4,640.0" fill="none" stroke="#f4b183" stroke-width="2" stroke-linecap="round"/>
<path d="M648.4,640.0 A68.5,68.5 0 0 1 778.5,658.0" fill="none" stroke="#f4b183" stroke-width="2" stroke-linecap="round"/>
<path d="M775.2,645.0 A42.9,42.9 0 0 1 844.2,684.4" fill="none" stroke="#f4b183" stroke-width="2" stroke-linecap="round"/>
<path d="M837.8,692.0 A37.0,37.0 0 0 1 904.6,721.8" fill="none" stroke="#f4b183" stroke-width="2" stroke-linecap="round"/>
<path d="M890.4,728.0 A46.0,46.0 0 0 1 943.0,803.5" fill="none" stroke="#f4b183" stroke-width="2" stroke-linecap="round"/>
<path d="M950.3,796.8 A54.5,54.5 0 0 1 894.7,882.7" fill="none" stroke="#f4b183" stroke-width="2" stroke-linecap="round"/>
<path d="M920.6,882.2 A81.2,81.2 0 0 1 806.2,950.2" fill="none" stroke="#f4b183" stroke-width="2" stroke-linecap="round"/>
<path d="M806.2,950.2 A57.4,57.4 0 0 1 705.1,939.6" fill="none" stroke="#f4b183" stroke-width="2" stroke-linecap="round"/>
<path d="M720.1,927.8 A68.2,68.2 0 0 1 605.5,861.3" fill="none" stroke="#f4b183" stroke-width="2" stroke-linecap="round"/>
<path d="M602.7,878.5 A67.2,67.2 0 0 1 546.7,787.1" fill="none" stroke="#f4b183" stroke-width="2" stroke-linecap="round"/>
<path d="M806.2,950.2 Q830.9,918.6 822.2,882.9" fill="none" stroke="#f4b183" stroke-width="2" stroke-linecap="round"/>
<path d="M643.5,772.0 H671.5 M688.2,772.0 H728.7 V682.4 H632.7 A16.7,17.8 0 0 0 616.0,700.2 V782.7 A13.8,13.8 0 0 0 643.5,782.7 V702.7 M616.2,702.3 A13.65,13.65 0 0 0 643.5,702.3 M643.5,703 A9.37,9.37 0 1 0 624.85,702.8 A7.4,7.4 0 0 0 632.4,708.8" fill="none" stroke="#777777" stroke-width="4.3" stroke-linecap="round" stroke-linejoin="round"/>
<circle cx="679.8" cy="772.0" r="2.1" fill="#777777"/>
<ellipse cx="660.2" cy="698.8" rx="5.9" ry="3.6" fill="#7030a0"/>
<ellipse cx="684.6" cy="698.8" rx="7.1" ry="3.7" fill="#7030a0"/>
<ellipse cx="707.0" cy="698.8" rx="5.9" ry="3.7" fill="#7030a0"/>
<ellipse cx="666.5" cy="709.4" rx="6.4" ry="3.2" fill="#7030a0"/>
<ellipse cx="692.8" cy="714.8" rx="8.0" ry="3.9" fill="#7030a0"/>
<ellipse cx="713.9" cy="715.5" rx="4.8" ry="3.4" fill="#7030a0"/>
<ellipse cx="656.7" cy="727.9" rx="9.2" ry="3.7" fill="#7030a0"/>
<ellipse cx="679.5" cy="731.7" rx="7.1" ry="3.9" fill="#7030a0"/>
<ellipse cx="700.6" cy="731.7" rx="8.0" ry="3.6" fill="#7030a0"/>
<ellipse cx="656.3" cy="743.8" rx="3.2" ry="3.9" fill="#7030a0"/>
<ellipse cx="670.9" cy="744.8" rx="9.8" ry="3.7" fill="#7030a0"/>
<ellipse cx="694.0" cy="744.3" rx="4.8" ry="3.4" fill="#7030a0"/>
<ellipse cx="710.9" cy="744.8" rx="6.8" ry="3.7" fill="#7030a0"/>
<ellipse cx="661.1" cy="757.5" rx="7.8" ry="3.4" fill="#7030a0"/>
<ellipse cx="694.0" cy="757.5" rx="7.8" ry="3.4" fill="#7030a0"/>
<ellipse cx="714.5" cy="757.8" rx="3.4" ry="3.9" fill="#7030a0"/>
<ellipse cx="621.5" cy="727.9" rx="5.3" ry="3.9" fill="#7030a0"/>
<ellipse cx="638.4" cy="739.5" rx="4.3" ry="3.2" fill="#7030a0"/>
<ellipse cx="625.9" cy="747.5" rx="6.8" ry="3.4" fill="#7030a0"/>
<ellipse cx="637.5" cy="762.3" rx="5.3" ry="3.4" fill="#7030a0"/>
<ellipse cx="622.0" cy="773.8" rx="5.0" ry="3.9" fill="#7030a0"/>
<ellipse cx="631.1" cy="781.5" rx="5.9" ry="3.2" fill="#7030a0"/>
<polygon points="743.7,743.6 815,763 807.7,787" fill="url(#beam)"/>
<path d="M837.2,835.0 C837.6,868.6 835.1,900.1 827.9,936.3" fill="none" stroke="#e4bcb6" stroke-width="3.6" stroke-linecap="round"/>
<path d="M838.6,841.3 C839.1,868.6 836.5,900.1 829.0,936.3" fill="none" stroke="#d9a8a2" stroke-width="0.8" stroke-linecap="round"/>
<path d="M816.3,833.5 C810.1,835.3 800.0,837.8 792.5,846.4 C795.7,847.6 798.8,844.7 801.9,843.5 C808.8,841.0 815.1,841.0 818.6,839.1 Z" fill="#e4bcb6"/>
<path d="M857.7,833.5 C863.9,835.3 874.0,837.8 881.7,846.4 C878.3,847.6 875.2,844.7 872.1,843.5 C865.2,841.0 858.9,841.0 855.4,839.1 Z" fill="#e4bcb6"/>
<path d="M801.9,742.0 C798.8,740.1 794.4,737.6 791.9,732.6 C793.8,733.2 795.0,734.5 795.7,731.6 C796.9,732.6 797.5,733.8 798.5,732.0 C799.4,733.8 800.0,735.1 800.7,737.0 C801.9,738.9 802.5,740.1 803.2,741.1 Z" fill="#e4bcb6"/>
<path d="M872.1,742.0 C875.2,740.1 879.6,737.6 882.5,732.6 C880.5,733.2 879.2,734.5 878.6,731.6 C877.3,732.6 876.7,733.8 875.7,732.0 C874.8,733.8 874.2,735.1 873.6,737.0 C872.3,738.9 871.7,740.1 871.1,741.1 Z" fill="#e4bcb6"/>
<ellipse cx="818.6" cy="727.8" rx="4.6" ry="5.2" fill="#dcc3be"/>
<ellipse cx="817.8" cy="728.2" rx="2.9" ry="3.5" fill="#e3b4af"/>
<ellipse cx="855.8" cy="727.8" rx="4.6" ry="5.2" fill="#dcc3be"/>
<ellipse cx="856.5" cy="728.2" rx="2.9" ry="3.5" fill="#e3b4af"/>
<path d="M837.0,736.3 C843.9,737.0 850.2,740.7 855.2,743.2 C861.4,745.1 867.7,743.2 872.7,740.4 L875.5,744.1 C871.5,750.1 866.4,755.1 861.4,760.2 C857.0,765.2 855.2,770.2 855.8,776.4 C857.0,785.2 860.2,792.7 865.2,801.5 C868.3,807.8 869.2,815.3 867.1,821.6 C865.2,827.8 861.4,832.8 858.3,836.0 C852.7,835.3 847.6,837.8 843.9,840.3 C841.4,841.8 832.6,841.8 830.1,840.3 C826.3,837.8 821.3,835.3 815.7,836.0 C812.6,832.8 808.8,827.8 806.9,821.6 C804.8,815.3 805.7,807.8 808.8,801.5 C813.8,792.7 817.0,785.2 818.2,776.4 C818.8,770.2 817.0,765.2 812.6,760.2 C807.6,755.1 802.5,750.1 798.5,744.1 L801.3,740.4 C806.3,743.2 812.6,745.1 818.8,743.2 C823.8,740.7 830.1,737.0 837.0,736.3 Z" fill="#e7e3e0" stroke="#cdc6bf" stroke-width="1.7" stroke-linejoin="round"/>
<path d="M811.9,807.8 C813.8,820.3 822.6,827.8 837.0,829.7 C851.4,827.8 860.2,820.3 862.1,807.8" fill="none" stroke="#cdc6bf" stroke-width="2" stroke-linecap="round"/>
<path d="M852.7,762.7 C850.2,772.7 850.2,782.7 853.3,792.7 C855.2,799.0 852.7,804.0 850.8,807.8 M821.3,762.7 C823.2,770.2 823.2,775.2 822.6,781.5 M822.6,799.0 C822.6,802.8 824.5,806.5 825.7,809.0" fill="none" stroke="#cdc6bf" stroke-width="1.5" stroke-linecap="round"/>
<path d="M837.0,702.5 C838.9,702.8 840.4,705.7 841.6,708.8 C843.9,713.8 847.6,718.2 850.8,721.9 C853.9,725.7 855.2,731.3 853.3,737.0 C851.4,740.7 847.6,741.1 843.9,738.9 C841.4,737.0 839.5,734.8 837.0,734.8 C834.5,734.8 832.6,737.0 830.1,738.9 C826.3,741.1 822.6,740.7 820.7,737.0 C818.8,731.3 820.1,725.7 823.2,721.9 C826.3,718.2 830.1,713.8 832.4,708.8 C833.6,705.7 835.1,702.8 837.0,702.5 Z" fill="#e7e3e0" stroke="#cdc6bf" stroke-width="1.6" stroke-linejoin="round"/>
<path d="M824.5,737.0 C828.9,734.5 833.2,730.7 837.0,730.7 C840.8,730.7 845.1,734.5 849.5,737.0" fill="none" stroke="#cdc6bf" stroke-width="2" stroke-linecap="round"/>
<path d="M833.2,713.8 C834.5,710.0 835.7,708.2 837.0,708.2 C838.3,708.2 839.5,710.0 840.8,713.8" fill="none" stroke="#cdc6bf" stroke-width="1.1" stroke-linecap="round"/>
<path d="M835.4,703.5 C836.1,702.3 837.9,702.3 838.6,703.5 C838.1,705.0 835.9,705.0 835.4,703.5 Z" fill="#e8bdb8"/>
<path d="M825.1,706.0 L833.2,706.3 M840.1,704.8 L842.9,707.3" fill="none" stroke="#fff" stroke-width="0.8"/>
<circle cx="824.1" cy="767.4" r="4.8" fill="#f07f7c" stroke="#f07f7c" stroke-width="1.4" stroke-dasharray="1.5 1.2"/>
<circle cx="809.1" cy="775.2" r="3.3" fill="#ee8880" stroke="#ee8880" stroke-width="1.4" stroke-dasharray="1.5 1.2"/>
<circle cx="818.8" cy="775.2" r="5.1" fill="#e2203c" stroke="#e2203c" stroke-width="1.4" stroke-dasharray="1.5 1.2"/>
<circle cx="829.5" cy="777.1" r="4.5" fill="#f58f8e" stroke="#f58f8e" stroke-width="1.4" stroke-dasharray="1.5 1.2"/>
<circle cx="812.8" cy="781.2" r="4.3" fill="#ef4a5c" stroke="#ef4a5c" stroke-width="1.4" stroke-dasharray="1.5 1.2"/>
<circle cx="836.6" cy="780.2" r="3.0" fill="#ee8880" stroke="#ee8880" stroke-width="1.4" stroke-dasharray="1.5 1.2"/>
<circle cx="825.3" cy="788.3" r="6.8" fill="#ee837e" stroke="#ee837e" stroke-width="1.4" stroke-dasharray="1.5 1.2"/>
<circle cx="834.5" cy="787.7" r="4.0" fill="#e2203c" stroke="#e2203c" stroke-width="1.4" stroke-dasharray="1.5 1.2"/>
<circle cx="813.6" cy="792.1" r="4.8" fill="#e2203c" stroke="#e2203c" stroke-width="1.4" stroke-dasharray="1.5 1.2"/>
<circle cx="829.5" cy="797.1" r="4.0" fill="#ee4f63" stroke="#ee4f63" stroke-width="1.4" stroke-dasharray="1.5 1.2"/>
<circle cx="820.3" cy="797.1" r="2.8" fill="#f5908c" stroke="#f5908c" stroke-width="1.4" stroke-dasharray="1.5 1.2"/>
<circle cx="816.3" cy="767.0" r="2.8" fill="#f4a19b" stroke="#f4a19b" stroke-width="1.4" stroke-dasharray="1.5 1.2"/>
<circle cx="824.3" cy="767.4" r="2.0" fill="#f5405a"/>
<circle cx="819.1" cy="775.2" r="2.1" fill="#f08a88"/>
<circle cx="812.8" cy="781.2" r="1.6" fill="#e2203c"/>
<circle cx="829.5" cy="777.3" r="1.8" fill="#f5566c"/>
<circle cx="825.7" cy="788.6" r="3.3" fill="#e2203c"/>
<circle cx="813.6" cy="792.4" r="1.9" fill="#f7a9a6"/>
<circle cx="834.5" cy="787.7" r="1.5" fill="#f08a88"/>
<circle cx="829.5" cy="797.1" r="1.4" fill="#e2203c"/>
<text transform="translate(736.3,779.8) rotate(19.4)" class="b" font-size="21.4" filter="url(#tsh2)">Hypoxia</text>
<text x="708.2" y="912.7" class="b" font-size="37.7" text-anchor="middle" filter="url(#tsh)">Angiogenesis</text>
<text x="672.5" y="671" font-size="21.9" text-anchor="middle" filter="url(#tsh2)">Co-doped on nBG</text>
<ellipse cx="1189.45" cy="626.85" rx="180.45" ry="122.85" fill="#fdf0a3" stroke="#14295a" stroke-width="1.6"/>
<g clip-path="url(#haclip)">
<g stroke="#000" stroke-linecap="round" fill="none">
<line x1="1053.9" y1="652.6" x2="1331.7" y2="652.6" stroke-width="2.4"/>
<line x1="1053.9" y1="652.6" x2="1053.9" y2="592.2" stroke-width="3.8"/>
<line x1="1031.3" y1="670.6" x2="1053.9" y2="652.6" stroke-width="2.9"/>
<line x1="1123.3" y1="652.6" x2="1123.3" y2="592.2" stroke-width="3.8"/>
<line x1="1100.8" y1="670.6" x2="1123.3" y2="652.6" stroke-width="2.9"/>
<line x1="1192.8" y1="652.6" x2="1192.8" y2="592.2" stroke-width="3.8"/>
<line x1="1170.2" y1="670.6" x2="1192.8" y2="652.6" stroke-width="2.9"/>
<line x1="1262.2" y1="652.6" x2="1262.2" y2="592.2" stroke-width="3.8"/>
<line x1="1239.7" y1="670.6" x2="1262.2" y2="652.6" stroke-width="2.9"/>
<line x1="1309.1" y1="670.6" x2="1331.7" y2="652.6" stroke-width="2.9"/>
</g>
<use href="#hacell" x="1031.3" y="670.6"/>
<use href="#hacell" x="1100.8" y="670.6"/>
<use href="#hacell" x="1170.2" y="670.6"/>
<use href="#hacell" x="1239.7" y="670.6"/>
<use href="#hastar" x="1111.1" y="625.0"/>
<use href="#hastar" x="1180.5" y="625.0"/>
<use href="#hastar" x="1250.0" y="625.0"/>
<use href="#hastar" x="1319.4" y="625.0"/>
<circle cx="1320.8" cy="635.6" r="6.4" fill="#ffc000"/>
<g stroke="#000" stroke-linecap="round" fill="none">
<line x1="1031.3" y1="670.6" x2="1309.1" y2="670.6" stroke-width="3.5"/>
<line x1="1031.3" y1="616.2" x2="1309.1" y2="616.2" stroke-width="2.6"/>
<line x1="1031.3" y1="630.8" x2="1031.3" y2="670.6" stroke-width="4.2"/>
<circle cx="1031.3" cy="626.0" r="2" fill="#000" stroke="none"/>
<line x1="1100.8" y1="616.2" x2="1100.8" y2="670.6" stroke-width="4.2"/>
<line x1="1170.2" y1="616.2" x2="1170.2" y2="670.6" stroke-width="4.2"/>
<line x1="1239.7" y1="616.2" x2="1239.7" y2="670.6" stroke-width="4.2"/>
<line x1="1309.1" y1="616.2" x2="1309.1" y2="670.6" stroke-width="4.2"/>
<line x1="1031.3" y1="616.2" x2="1053.9" y2="598.2" stroke-width="2.8"/>
<line x1="1332.5" y1="598.6" x2="1332.0" y2="636.6" stroke-width="4"/>
<circle cx="1331.9" cy="643.1" r="2" fill="#000" stroke="none"/>
</g>
<circle cx="1053.9" cy="652.6" r="4.2" fill="#fbd0d0" stroke="#000" stroke-width="3.8"/>
<circle cx="1054.2" cy="653.2" r="1.5" fill="#ff7b7b"/>
<circle cx="1123.3" cy="652.6" r="4.2" fill="#fbd0d0" stroke="#000" stroke-width="3.8"/>
<circle cx="1123.6" cy="653.2" r="1.5" fill="#ff7b7b"/>
<circle cx="1192.8" cy="652.6" r="4.2" fill="#fbd0d0" stroke="#000" stroke-width="3.8"/>
<circle cx="1193.1" cy="653.2" r="1.5" fill="#ff7b7b"/>
<circle cx="1262.2" cy="652.6" r="4.2" fill="#fbd0d0" stroke="#000" stroke-width="3.8"/>
<circle cx="1262.5" cy="653.2" r="1.5" fill="#ff7b7b"/>
<circle cx="1331.7" cy="652.6" r="4.2" fill="#fbd0d0" stroke="#000" stroke-width="3.8"/>
<circle cx="1332.0" cy="653.2" r="1.5" fill="#ff7b7b"/>
<circle cx="1031.3" cy="670.6" r="4.1" fill="#ff8585" stroke="#000" stroke-width="3.4"/>
<circle cx="1030.9" cy="669.8" r="1.1" fill="#ffd5d0"/>
<circle cx="1030.8" cy="616.2" r="4.7" fill="#7030a0" stroke="#000" stroke-width="2.4"/>
<circle cx="1100.8" cy="670.6" r="4.1" fill="#ff8585" stroke="#000" stroke-width="3.4"/>
<circle cx="1100.3" cy="669.8" r="1.1" fill="#ffd5d0"/>
<circle cx="1100.2" cy="616.2" r="4.7" fill="#7030a0" stroke="#000" stroke-width="2.4"/>
<circle cx="1170.2" cy="670.6" r="4.1" fill="#ff8585" stroke="#000" stroke-width="3.4"/>
<circle cx="1169.8" cy="669.8" r="1.1" fill="#ffd5d0"/>
<circle cx="1169.7" cy="616.2" r="4.7" fill="#7030a0" stroke="#000" stroke-width="2.4"/>
<circle cx="1239.7" cy="670.6" r="4.1" fill="#ff8585" stroke="#000" stroke-width="3.4"/>
<circle cx="1239.2" cy="669.8" r="1.1" fill="#ffd5d0"/>
<circle cx="1239.2" cy="616.2" r="4.7" fill="#7030a0" stroke="#000" stroke-width="2.4"/>
<circle cx="1309.1" cy="670.6" r="4.1" fill="#ff8585" stroke="#000" stroke-width="3.4"/>
<circle cx="1308.7" cy="669.8" r="1.1" fill="#ffd5d0"/>
<circle cx="1309.1" cy="616.2" r="4.1" fill="#ff8585" stroke="#000" stroke-width="3.4"/>
<circle cx="1332.7" cy="599.2" r="4" fill="#ff7b7b" stroke="#000" stroke-width="3.6"/>
<path d="M1039.7,595.0 C1040.5,585.0 1046.8,577.9 1058.1,569.4 C1068.1,562.3 1076.6,554.4 1085.1,551.5 C1092.2,549.6 1095.6,555.2 1099.3,560.1 C1103.6,564.6 1117.8,564.0 1137.6,565.7 C1160.3,568.6 1183.0,571.4 1205.8,571.4 C1234.1,570.8 1262.5,566.6 1290.9,561.8 C1305.1,559.5 1316.5,557.2 1325.0,558.1 C1332.1,559.5 1336.9,565.2 1338.0,577.9 C1338.6,586.5 1335.8,593.6 1330.1,598.7 C1327.3,602.1 1328.4,609.2 1325.0,612.9 C1319.3,615.7 1308.0,612.9 1296.6,611.7 C1273.9,609.2 1254.0,607.8 1239.8,609.2 C1228.5,611.2 1221.4,619.7 1214.3,622.5 C1207.2,624.8 1203.5,618.5 1197.2,616.3 C1185.9,613.4 1171.7,613.4 1157.5,612.3 C1137.6,611.2 1117.8,610.0 1100.7,610.0 C1087.9,610.0 1083.7,612.3 1080.3,619.1 C1077.4,624.8 1072.3,627.1 1068.9,623.4 C1066.1,619.1 1067.2,613.4 1062.4,612.3 C1053.9,610.6 1041.1,607.8 1039.7,595.0 Z" fill="#b5f873" stroke="#9fd68a" stroke-width="0.6"/>
<ellipse cx="1184.5" cy="589.6" rx="39.5" ry="14.4" fill="#548235" stroke="#3f6b3c" stroke-width="0.7"/>
<path d="M1159.5,593.0 C1163.7,591.3 1163.7,586.7 1167.7,585.6 C1170.6,584.5 1170.6,581.1 1172.3,579.9" fill="none" stroke="#f4978e" stroke-width="1.1"/>
<path d="M1162.6,594.7 C1163.7,590.1 1168.3,591.3 1169.4,587.3 C1170.6,584.5 1174.0,585.0 1175.1,582.8" fill="none" stroke="#8faadc" stroke-width="1.1"/>
<path d="M1175.1,593.6 C1178.5,592.4 1179.6,599.2 1183.0,598.7 C1186.5,598.1 1187.6,593.6 1192.1,594.7 M1175.1,598.7 C1178.5,599.8 1179.6,593.6 1183.0,594.1 C1186.5,594.7 1187.6,600.4 1192.1,599.2" fill="none" stroke="#d0d0d0" stroke-width="1.1"/>
<path d="M1199.2,582.8 C1203.5,585.6 1203.5,589.0 1199.2,591.9 C1197.2,594.1 1200.1,597.5 1203.5,599.2 M1203.8,582.8 C1199.5,585.6 1199.5,589.0 1203.8,591.9 C1205.8,594.1 1202.3,597.5 1199.2,599.2" fill="none" stroke="#b5735a" stroke-width="1.1"/>
<path d="M1348.3,579.9 C1361.9,593.6 1364.7,627.6 1343.4,645.2" fill="none" stroke="#e6e6e6" stroke-width="2.2"/>
<path d="M1350.0,582.2 C1364.2,599.2 1364.7,627.6 1342.0,643.2" fill="none" stroke="#9bbf7a" stroke-width="0.7"/>
<circle cx="1062.4" cy="551.0" r="3.4" fill="#7030a0"/>
<circle cx="1063.2" cy="587.3" r="3.4" fill="#7030a0"/>
<circle cx="1126.3" cy="584.5" r="3.4" fill="#7030a0"/>
<circle cx="1133.4" cy="590.7" r="3.4" fill="#7030a0"/>
<circle cx="1273.0" cy="578.5" r="3.4" fill="#7030a0"/>
<circle cx="1286.7" cy="576.5" r="3.4" fill="#7030a0"/>
<circle cx="1282.4" cy="589.3" r="3.4" fill="#7030a0"/>
<circle cx="1321.3" cy="590.7" r="3.4" fill="#7030a0"/>
<circle cx="1346.3" cy="590.7" r="3.4" fill="#7030a0"/>
<circle cx="1356.2" cy="619.1" r="3.4" fill="#7030a0"/>
<polygon points="1101.6,585.6 1108.3,588.7 1110.0,595.7 1105.3,601.2 1097.8,601.2 1093.2,595.7 1094.8,588.7" fill="#c00000"/>
<polygon points="1070.3,574.3 1082.8,560.9 1093.9,585.6" fill="#f8cbad" stroke="#f0b89a" stroke-width="0.5"/>
<polygon points="1133.0,572.3 1143.0,569.2 1147.4,575.6 1145.3,576.3 1157.7,587.4 1145.3,581.9 1147.1,580.6 1138.5,576.4 1140.2,575.6" fill="#ffff00"/>
<g transform="translate(1068.1,562.9) rotate(-35)" fill="none" stroke="#ff5c66" stroke-width="1.6" stroke-linecap="round"><path d="M-4,-6.6 Q0.9,0 -4,6.6"/><path d="M4,-6.6 Q-0.9,0 4,6.6"/></g>
<g transform="translate(1130.0,564.3) rotate(0)" fill="none" stroke="#ff5c66" stroke-width="1.6" stroke-linecap="round"><path d="M-4,-6.6 Q0.9,0 -4,6.6"/><path d="M4,-6.6 Q-0.9,0 4,6.6"/></g>
<g transform="translate(1270.2,568.0) rotate(0)" fill="none" stroke="#ff5c66" stroke-width="1.6" stroke-linecap="round"><path d="M-4,-6.6 Q0.9,0 -4,6.6"/><path d="M4,-6.6 Q-0.9,0 4,6.6"/></g>
<g transform="translate(1337.8,587.3) rotate(-60)" fill="none" stroke="#ff5c66" stroke-width="1.6" stroke-linecap="round"><path d="M-4,-6.6 Q0.9,0 -4,6.6"/><path d="M4,-6.6 Q-0.9,0 4,6.6"/></g>
<polygon points="1246.9,582.8 1252.6,579.9 1264.8,596.4 1259.1,599.2" fill="#fbe9a0"/>
<polygon points="1245.5,594.1 1252.6,590.1 1256.3,594.7 1248.9,598.7" fill="#dfe6f5" stroke="#9db1d8" stroke-width="0.5"/>
<path d="M1034.0,594.1 C1036.8,576.5 1046.8,563.7 1061.0,559.5" fill="none" stroke="#000" stroke-width="0.9" marker-end="url(#ah)"/>
<path d="M1282.4,593.6 C1271.1,602.1 1245.5,604.9 1224.2,604.9" fill="none" stroke="#000" stroke-width="0.9" marker-end="url(#ah)"/>
<path d="M1359.1,613.4 C1342.0,610.6 1339.2,599.2 1336.3,590.7 C1334.1,584.5 1329.2,581.6 1321.6,580.8" fill="none" stroke="#000" stroke-width="0.9" marker-end="url(#ah)"/>
</g>
<text x="1190" y="725.3" class="b" font-size="21.9" text-anchor="middle" filter="url(#tsh2)">Cobalt doped HA</text>
<g clip-path="url(#sgclip)">
<rect x="210" y="870" width="285" height="262" fill="#ffffff"/>
<g filter="url(#sgblur3)" fill="none" stroke-linejoin="round">
<path d="M234.6,882.2 L236.0,884.2 L237.8,885.9 L239.9,887.2 L243.4,888.4 L245.9,888.6 L248.3,888.3 L251.8,886.9 L253.8,885.5 L283.6,854.3 L285.1,852.4 L286.2,850.2 L286.9,847.8 L287.0,844.2 L286.0,840.6 L284.1,837.5 L281.4,835.1 L279.2,833.9 L276.9,833.2 L274.4,833.0 L227.0,833.1 L223.4,834.0 L220.2,835.9 L217.7,838.7 L216.1,842.2 L215.7,845.9 L216.3,849.6 L217.3,851.9Z M281.7,1107.2 L281.2,1109.6 L281.4,1113.3 L282.7,1116.8 L285.0,1119.7 L286.9,1121.3 L290.2,1122.8 L292.7,1123.3 L296.4,1123.1 L298.7,1122.3 L376.6,1089.2 L379.7,1087.3 L382.2,1084.5 L383.7,1081.2 L385.0,1076.0 L384.7,1072.1 L383.8,1069.6 L370.4,1041.1 L369.1,1038.9 L367.3,1037.0 L364.1,1034.9 L361.7,1034.1 L357.9,1033.9 L307.3,1043.5 L304.9,1044.2 L301.7,1046.1 L299.2,1048.9 L297.6,1052.4Z M276.6,963.3 L274.4,964.3 L272.4,965.7 L270.7,967.5 L269.4,969.5 L268.5,971.8 L268.1,974.2 L268.1,976.6 L268.6,979.0 L269.6,981.3 L294.1,1026.8 L296.3,1029.7 L299.2,1031.9 L301.5,1032.8 L303.9,1033.3 L307.6,1033.2 L358.3,1023.4 L360.6,1022.8 L363.7,1021.0 L365.4,1019.4 L366.8,1017.5 L368.1,1014.5 L368.9,1010.8 L368.5,1007.2 L367.7,1004.8 L337.3,953.3 L335.8,951.3 L333.0,949.0 L330.8,947.9 L328.5,947.3 L326.0,947.1 L323.6,947.5Z M238.6,950.5 L235.8,948.4 L233.6,947.5 L231.3,947.0 L185.9,945.9 L182.2,946.4 L179.8,947.3 L176.8,949.5 L175.2,951.4 L173.6,954.8 L173.0,958.5 L173.0,1023.3 L173.3,1025.8 L174.0,1028.2 L176.0,1031.4 L177.8,1033.2 L179.9,1034.5 L182.2,1035.4 L186.0,1035.9 L191.6,1035.7 L194.1,1035.4 L196.5,1034.6 L198.7,1033.2 L200.6,1031.5 L249.6,976.4 L251.4,973.0 L251.9,970.5 L252.0,967.9 L251.1,964.2 L249.1,960.9Z M539.2,1190.8 L541.7,1190.5 L544.0,1189.8 L547.2,1187.9 L548.9,1186.2 L550.3,1184.1 L551.3,1181.8 L551.8,1179.4 L551.8,1051.3 L551.6,1048.8 L550.3,1045.3 L548.9,1043.2 L546.2,1040.8 L542.8,1039.2 L540.4,1038.7 L507.4,1035.6 L503.8,1035.8 L500.4,1037.0 L497.4,1039.2 L480.9,1055.4 L479.4,1057.6 L478.5,1060.0 L459.1,1176.1 L458.9,1178.5 L459.2,1180.9 L460.0,1183.2 L461.2,1185.4 L463.6,1188.0 L466.8,1189.9 L470.3,1190.7Z M364.3,887.3 L364.8,889.8 L366.5,893.2 L368.2,895.1 L371.3,897.2 L439.0,929.8 L441.4,930.7 L443.9,931.1 L447.7,930.7 L451.3,929.1 L454.1,926.6 L515.0,853.7 L517.0,850.5 L517.7,848.2 L517.9,844.5 L517.4,842.0 L515.9,838.6 L513.4,835.9 L510.2,834.0 L506.6,833.1 L372.3,833.0 L368.6,833.6 L365.3,835.2 L362.5,837.7 L360.6,840.9 L359.8,844.5 L359.8,847.0Z M266.9,997.7 L264.8,994.8 L262.9,993.2 L260.8,992.1 L258.5,991.3 L256.1,991.0 L253.7,991.2 L251.3,991.9 L248.2,993.6 L246.4,995.3 L213.6,1032.1 L211.6,1035.2 L210.8,1037.5 L210.4,1039.9 L210.5,1042.4 L211.1,1044.7 L212.2,1047.0 L213.6,1048.9 L255.5,1095.7 L258.6,1097.7 L260.8,1098.6 L263.2,1099.0 L266.9,1098.7 L270.3,1097.4 L273.2,1095.1 L275.3,1092.2 L276.2,1089.9 L288.9,1046.1 L289.4,1042.5 L288.9,1038.9 L287.9,1036.6Z M188.8,833.1 L183.2,833.2 L180.8,834.0 L177.6,835.9 L175.9,837.6 L174.5,839.7 L173.5,842.0 L173.1,844.4 L173.0,923.2 L173.2,925.6 L173.9,928.0 L175.8,931.1 L178.5,933.6 L180.6,934.8 L184.1,935.7 L221.5,936.6 L223.9,936.4 L226.3,935.8 L229.5,934.0 L231.3,932.3 L232.7,930.3 L233.7,928.0 L234.2,925.6 L236.3,909.4 L236.2,907.1 L235.6,904.8 L234.7,902.7 L197.9,838.4 L195.5,835.7 L192.3,833.9Z M243.3,933.9 L243.3,936.5 L243.7,939.1 L245.3,942.6 L247.0,944.6 L255.2,952.6 L257.1,954.2 L260.6,955.8 L264.3,956.2 L268.1,955.6 L326.8,935.7 L329.0,934.7 L331.0,933.2 L333.4,930.5 L352.7,900.1 L353.8,897.9 L354.5,895.6 L354.6,891.9 L349.3,844.2 L348.8,841.8 L347.9,839.6 L345.6,836.6 L342.7,834.5 L339.2,833.2 L336.8,833.0 L323.2,833.0 L320.7,833.3 L318.2,834.0 L316.0,835.3 L314.1,836.9 L248.7,905.7 L247.3,907.9 L246.5,910.4Z M402.7,1076.1 L399.2,1077.5 L397.1,1078.9 L394.7,1081.8 L393.6,1084.0 L393.0,1086.4 L392.8,1088.9 L393.2,1091.4 L394.6,1094.9 L429.9,1154.5 L431.3,1156.4 L434.2,1158.8 L436.4,1159.9 L438.8,1160.5 L441.2,1160.6 L443.7,1160.3 L447.1,1158.9 L449.1,1157.5 L451.4,1154.7 L452.5,1152.5 L453.2,1150.1 L464.9,1079.9 L465.0,1077.4 L464.7,1075.0 L463.4,1071.5 L461.1,1068.6 L458.0,1066.5 L455.7,1065.7 L452.1,1065.2 L449.6,1065.5Z M384.7,1010.0 L381.5,1012.0 L379.7,1013.9 L378.4,1016.0 L376.4,1021.3 L375.8,1023.7 L375.6,1026.2 L376.0,1028.7 L376.8,1031.0 L390.3,1059.6 L391.8,1061.6 L394.6,1063.9 L396.8,1065.0 L399.1,1065.6 L401.5,1065.8 L404.0,1065.5 L468.2,1051.0 L470.4,1050.3 L472.4,1049.2 L474.2,1047.7 L484.1,1038.0 L486.3,1035.2 L487.6,1031.8 L487.9,1029.4 L487.5,1025.9 L486.7,1023.6 L484.7,1020.6 L455.2,987.6 L452.2,985.5 L448.7,984.4 L445.1,984.3 L441.6,985.3Z M283.2,1139.9 L281.1,1141.0 L279.2,1142.6 L277.7,1144.4 L276.5,1146.6 L267.7,1174.4 L267.2,1176.8 L267.4,1180.5 L268.1,1182.9 L269.2,1185.1 L271.7,1187.9 L273.8,1189.3 L276.1,1190.2 L279.8,1190.8 L418.8,1190.7 L422.5,1189.8 L425.7,1187.8 L428.2,1185.0 L429.7,1181.5 L430.1,1179.0 L430.0,1176.5 L429.5,1174.0 L428.4,1171.7 L389.7,1106.5 L388.3,1104.5 L386.5,1102.9 L384.5,1101.6 L382.2,1100.7 L379.9,1100.3 L377.4,1100.4 L373.9,1101.3Z M455.9,969.1 L456.3,971.5 L457.1,973.8 L459.1,976.8 L498.9,1021.3 L501.6,1023.6 L503.7,1024.7 L507.1,1025.5 L539.3,1028.4 L542.9,1027.9 L545.2,1026.9 L547.2,1025.5 L549.0,1023.8 L550.9,1020.6 L551.6,1018.3 L551.8,1015.8 L551.8,860.2 L551.6,857.7 L550.3,854.3 L549.0,852.2 L547.2,850.5 L545.2,849.1 L542.9,848.1 L539.3,847.6 L536.8,847.8 L534.5,848.5 L532.3,849.6 L530.4,851.2 L457.5,938.2 L456.2,940.2 L455.2,942.4 L454.6,945.9Z M344.4,932.0 L343.3,934.2 L342.5,937.9 L342.8,941.7 L343.6,944.1 L372.1,992.4 L374.4,995.2 L376.4,996.7 L378.5,997.7 L380.9,998.4 L383.3,998.6 L386.9,997.9 L437.9,975.8 L440.2,974.6 L442.1,972.9 L443.7,970.9 L444.8,968.6 L445.5,964.8 L444.6,949.8 L444.0,947.5 L443.0,945.3 L441.5,943.3 L439.7,941.7 L437.6,940.4 L371.2,908.4 L367.6,907.7 L363.9,908.0 L361.6,908.8 L358.5,910.7 L356.2,913.5Z M201.1,1050.0 L199.3,1048.4 L197.2,1047.1 L193.7,1046.0 L191.3,1045.8 L182.8,1046.3 L179.4,1047.6 L176.6,1049.8 L174.4,1052.8 L173.2,1056.2 L173.0,1058.6 L173.0,1178.2 L173.5,1181.8 L175.1,1185.2 L177.6,1187.9 L180.8,1189.8 L184.4,1190.7 L242.8,1190.8 L246.4,1190.3 L249.7,1188.7 L251.6,1187.2 L253.2,1185.3 L254.8,1182.0 L268.2,1139.1 L268.4,1135.3 L267.7,1128.1 L267.2,1125.5 L266.1,1123.1 L264.5,1120.9Z" stroke="#c6daee" stroke-width="7.0"/>
<path d="M234.6,882.2 L236.0,884.2 L237.8,885.9 L239.9,887.2 L243.4,888.4 L245.9,888.6 L248.3,888.3 L251.8,886.9 L253.8,885.5 L283.6,854.3 L285.1,852.4 L286.2,850.2 L286.9,847.8 L287.0,844.2 L286.0,840.6 L284.1,837.5 L281.4,835.1 L279.2,833.9 L276.9,833.2 L274.4,833.0 L227.0,833.1 L223.4,834.0 L220.2,835.9 L217.7,838.7 L216.1,842.2 L215.7,845.9 L216.3,849.6 L217.3,851.9Z M281.7,1107.2 L281.2,1109.6 L281.4,1113.3 L282.7,1116.8 L285.0,1119.7 L286.9,1121.3 L290.2,1122.8 L292.7,1123.3 L296.4,1123.1 L298.7,1122.3 L376.6,1089.2 L379.7,1087.3 L382.2,1084.5 L383.7,1081.2 L385.0,1076.0 L384.7,1072.1 L383.8,1069.6 L370.4,1041.1 L369.1,1038.9 L367.3,1037.0 L364.1,1034.9 L361.7,1034.1 L357.9,1033.9 L307.3,1043.5 L304.9,1044.2 L301.7,1046.1 L299.2,1048.9 L297.6,1052.4Z M276.6,963.3 L274.4,964.3 L272.4,965.7 L270.7,967.5 L269.4,969.5 L268.5,971.8 L268.1,974.2 L268.1,976.6 L268.6,979.0 L269.6,981.3 L294.1,1026.8 L296.3,1029.7 L299.2,1031.9 L301.5,1032.8 L303.9,1033.3 L307.6,1033.2 L358.3,1023.4 L360.6,1022.8 L363.7,1021.0 L365.4,1019.4 L366.8,1017.5 L368.1,1014.5 L368.9,1010.8 L368.5,1007.2 L367.7,1004.8 L337.3,953.3 L335.8,951.3 L333.0,949.0 L330.8,947.9 L328.5,947.3 L326.0,947.1 L323.6,947.5Z M238.6,950.5 L235.8,948.4 L233.6,947.5 L231.3,947.0 L185.9,945.9 L182.2,946.4 L179.8,947.3 L176.8,949.5 L175.2,951.4 L173.6,954.8 L173.0,958.5 L173.0,1023.3 L173.3,1025.8 L174.0,1028.2 L176.0,1031.4 L177.8,1033.2 L179.9,1034.5 L182.2,1035.4 L186.0,1035.9 L191.6,1035.7 L194.1,1035.4 L196.5,1034.6 L198.7,1033.2 L200.6,1031.5 L249.6,976.4 L251.4,973.0 L251.9,970.5 L252.0,967.9 L251.1,964.2 L249.1,960.9Z M539.2,1190.8 L541.7,1190.5 L544.0,1189.8 L547.2,1187.9 L548.9,1186.2 L550.3,1184.1 L551.3,1181.8 L551.8,1179.4 L551.8,1051.3 L551.6,1048.8 L550.3,1045.3 L548.9,1043.2 L546.2,1040.8 L542.8,1039.2 L540.4,1038.7 L507.4,1035.6 L503.8,1035.8 L500.4,1037.0 L497.4,1039.2 L480.9,1055.4 L479.4,1057.6 L478.5,1060.0 L459.1,1176.1 L458.9,1178.5 L459.2,1180.9 L460.0,1183.2 L461.2,1185.4 L463.6,1188.0 L466.8,1189.9 L470.3,1190.7Z M364.3,887.3 L364.8,889.8 L366.5,893.2 L368.2,895.1 L371.3,897.2 L439.0,929.8 L441.4,930.7 L443.9,931.1 L447.7,930.7 L451.3,929.1 L454.1,926.6 L515.0,853.7 L517.0,850.5 L517.7,848.2 L517.9,844.5 L517.4,842.0 L515.9,838.6 L513.4,835.9 L510.2,834.0 L506.6,833.1 L372.3,833.0 L368.6,833.6 L365.3,835.2 L362.5,837.7 L360.6,840.9 L359.8,844.5 L359.8,847.0Z M266.9,997.7 L264.8,994.8 L262.9,993.2 L260.8,992.1 L258.5,991.3 L256.1,991.0 L253.7,991.2 L251.3,991.9 L248.2,993.6 L246.4,995.3 L213.6,1032.1 L211.6,1035.2 L210.8,1037.5 L210.4,1039.9 L210.5,1042.4 L211.1,1044.7 L212.2,1047.0 L213.6,1048.9 L255.5,1095.7 L258.6,1097.7 L260.8,1098.6 L263.2,1099.0 L266.9,1098.7 L270.3,1097.4 L273.2,1095.1 L275.3,1092.2 L276.2,1089.9 L288.9,1046.1 L289.4,1042.5 L288.9,1038.9 L287.9,1036.6Z M188.8,833.1 L183.2,833.2 L180.8,834.0 L177.6,835.9 L175.9,837.6 L174.5,839.7 L173.5,842.0 L173.1,844.4 L173.0,923.2 L173.2,925.6 L173.9,928.0 L175.8,931.1 L178.5,933.6 L180.6,934.8 L184.1,935.7 L221.5,936.6 L223.9,936.4 L226.3,935.8 L229.5,934.0 L231.3,932.3 L232.7,930.3 L233.7,928.0 L234.2,925.6 L236.3,909.4 L236.2,907.1 L235.6,904.8 L234.7,902.7 L197.9,838.4 L195.5,835.7 L192.3,833.9Z M243.3,933.9 L243.3,936.5 L243.7,939.1 L245.3,942.6 L247.0,944.6 L255.2,952.6 L257.1,954.2 L260.6,955.8 L264.3,956.2 L268.1,955.6 L326.8,935.7 L329.0,934.7 L331.0,933.2 L333.4,930.5 L352.7,900.1 L353.8,897.9 L354.5,895.6 L354.6,891.9 L349.3,844.2 L348.8,841.8 L347.9,839.6 L345.6,836.6 L342.7,834.5 L339.2,833.2 L336.8,833.0 L323.2,833.0 L320.7,833.3 L318.2,834.0 L316.0,835.3 L314.1,836.9 L248.7,905.7 L247.3,907.9 L246.5,910.4Z M402.7,1076.1 L399.2,1077.5 L397.1,1078.9 L394.7,1081.8 L393.6,1084.0 L393.0,1086.4 L392.8,1088.9 L393.2,1091.4 L394.6,1094.9 L429.9,1154.5 L431.3,1156.4 L434.2,1158.8 L436.4,1159.9 L438.8,1160.5 L441.2,1160.6 L443.7,1160.3 L447.1,1158.9 L449.1,1157.5 L451.4,1154.7 L452.5,1152.5 L453.2,1150.1 L464.9,1079.9 L465.0,1077.4 L464.7,1075.0 L463.4,1071.5 L461.1,1068.6 L458.0,1066.5 L455.7,1065.7 L452.1,1065.2 L449.6,1065.5Z M384.7,1010.0 L381.5,1012.0 L379.7,1013.9 L378.4,1016.0 L376.4,1021.3 L375.8,1023.7 L375.6,1026.2 L376.0,1028.7 L376.8,1031.0 L390.3,1059.6 L391.8,1061.6 L394.6,1063.9 L396.8,1065.0 L399.1,1065.6 L401.5,1065.8 L404.0,1065.5 L468.2,1051.0 L470.4,1050.3 L472.4,1049.2 L474.2,1047.7 L484.1,1038.0 L486.3,1035.2 L487.6,1031.8 L487.9,1029.4 L487.5,1025.9 L486.7,1023.6 L484.7,1020.6 L455.2,987.6 L452.2,985.5 L448.7,984.4 L445.1,984.3 L441.6,985.3Z M283.2,1139.9 L281.1,1141.0 L279.2,1142.6 L277.7,1144.4 L276.5,1146.6 L267.7,1174.4 L267.2,1176.8 L267.4,1180.5 L268.1,1182.9 L269.2,1185.1 L271.7,1187.9 L273.8,1189.3 L276.1,1190.2 L279.8,1190.8 L418.8,1190.7 L422.5,1189.8 L425.7,1187.8 L428.2,1185.0 L429.7,1181.5 L430.1,1179.0 L430.0,1176.5 L429.5,1174.0 L428.4,1171.7 L389.7,1106.5 L388.3,1104.5 L386.5,1102.9 L384.5,1101.6 L382.2,1100.7 L379.9,1100.3 L377.4,1100.4 L373.9,1101.3Z M455.9,969.1 L456.3,971.5 L457.1,973.8 L459.1,976.8 L498.9,1021.3 L501.6,1023.6 L503.7,1024.7 L507.1,1025.5 L539.3,1028.4 L542.9,1027.9 L545.2,1026.9 L547.2,1025.5 L549.0,1023.8 L550.9,1020.6 L551.6,1018.3 L551.8,1015.8 L551.8,860.2 L551.6,857.7 L550.3,854.3 L549.0,852.2 L547.2,850.5 L545.2,849.1 L542.9,848.1 L539.3,847.6 L536.8,847.8 L534.5,848.5 L532.3,849.6 L530.4,851.2 L457.5,938.2 L456.2,940.2 L455.2,942.4 L454.6,945.9Z M344.4,932.0 L343.3,934.2 L342.5,937.9 L342.8,941.7 L343.6,944.1 L372.1,992.4 L374.4,995.2 L376.4,996.7 L378.5,997.7 L380.9,998.4 L383.3,998.6 L386.9,997.9 L437.9,975.8 L440.2,974.6 L442.1,972.9 L443.7,970.9 L444.8,968.6 L445.5,964.8 L444.6,949.8 L444.0,947.5 L443.0,945.3 L441.5,943.3 L439.7,941.7 L437.6,940.4 L371.2,908.4 L367.6,907.7 L363.9,908.0 L361.6,908.8 L358.5,910.7 L356.2,913.5Z M201.1,1050.0 L199.3,1048.4 L197.2,1047.1 L193.7,1046.0 L191.3,1045.8 L182.8,1046.3 L179.4,1047.6 L176.6,1049.8 L174.4,1052.8 L173.2,1056.2 L173.0,1058.6 L173.0,1178.2 L173.5,1181.8 L175.1,1185.2 L177.6,1187.9 L180.8,1189.8 L184.4,1190.7 L242.8,1190.8 L246.4,1190.3 L249.7,1188.7 L251.6,1187.2 L253.2,1185.3 L254.8,1182.0 L268.2,1139.1 L268.4,1135.3 L267.7,1128.1 L267.2,1125.5 L266.1,1123.1 L264.5,1120.9Z" stroke="#2f5d91" stroke-width="3.4"/>
</g>
<g filter="url(#sgblur)" fill="none" stroke-linejoin="round">
<path d="M293.4,1192.5 L295.6,1192.3 L297.8,1191.6 L299.7,1190.6 L301.5,1189.2 L302.9,1187.5 L304.0,1185.5 L304.7,1183.4 L304.9,1181.2 L297.0,1075.0 L296.3,1071.8 L294.7,1069.0 L287.5,1061.0 L285.6,1059.7 L283.5,1058.7 L280.2,1058.1 L277.9,1058.2 L275.7,1058.8 L273.6,1059.8 L271.0,1062.0 L234.0,1104.2 L232.6,1106.2 L231.7,1108.3 L231.2,1110.6 L231.2,1112.9 L231.6,1115.2 L232.5,1117.4 L270.1,1186.4 L271.3,1188.3 L272.9,1189.9 L274.8,1191.1 L278.0,1192.3 L280.2,1192.5Z M298.2,1062.8 L299.9,1064.3 L301.9,1065.5 L304.0,1066.2 L306.3,1066.6 L367.0,1069.3 L370.3,1068.6 L372.4,1067.6 L374.2,1066.3 L375.7,1064.6 L391.7,1043.1 L393.2,1040.2 L393.9,1037.0 L393.9,1034.9 L393.4,1032.7 L382.1,996.7 L381.2,994.7 L380.1,992.9 L378.6,991.4 L375.8,989.6 L357.7,983.3 L354.2,982.7 L351.9,982.9 L349.6,983.5 L347.5,984.6 L284.4,1026.6 L282.8,1028.2 L281.5,1030.0 L280.6,1032.1 L280.2,1034.3 L280.3,1037.7 L282.1,1043.9 L283.1,1045.8 L284.3,1047.5Z M444.4,1047.8 L447.7,1048.2 L451.0,1047.7 L453.0,1046.8 L454.9,1045.5 L457.1,1043.0 L480.8,998.6 L481.7,996.5 L482.1,994.2 L481.9,990.8 L481.2,988.6 L480.1,986.6 L477.7,984.1 L475.8,982.8 L434.8,962.5 L431.5,961.7 L428.2,962.0 L426.0,962.7 L424.0,963.8 L393.0,985.7 L391.5,987.3 L389.8,990.2 L389.0,993.5 L389.2,996.8 L399.7,1030.2 L400.6,1032.3 L402.7,1035.1 L405.5,1037.0 L407.7,1037.9Z M245.6,925.3 L246.0,927.5 L246.7,929.6 L247.8,931.5 L249.3,933.2 L251.1,934.5 L253.1,935.5 L255.2,936.1 L257.4,936.2 L259.6,936.0 L324.0,921.9 L326.2,921.2 L328.3,920.0 L330.0,918.4 L331.4,916.6 L332.4,914.4 L333.8,908.6 L333.9,906.4 L333.6,904.1 L332.8,902.0 L331.6,900.0 L329.1,897.7 L327.2,896.5 L259.1,865.5 L257.0,864.8 L254.8,864.5 L251.4,864.9 L248.3,866.2 L245.7,868.4 L243.9,871.2 L242.9,874.5 L242.8,876.7Z M171.3,1090.7 L171.8,1094.1 L172.7,1096.2 L173.9,1098.1 L175.5,1099.7 L177.4,1100.9 L180.6,1102.1 L218.4,1105.8 L221.7,1105.4 L224.6,1104.0 L227.1,1101.9 L272.3,1050.2 L273.9,1047.1 L274.4,1044.9 L274.4,1042.6 L272.5,1035.1 L271.1,1032.1 L269.0,1029.6 L263.8,1025.9 L261.8,1024.8 L258.6,1023.8 L256.3,1023.8 L254.1,1024.1 L178.8,1052.6 L176.7,1053.7 L174.9,1055.1 L172.8,1057.9 L171.8,1060.0 L171.4,1062.3Z M487.5,981.2 L489.7,982.0 L492.1,982.4 L495.5,982.0 L544.8,969.5 L547.0,968.7 L549.0,967.5 L551.4,965.0 L553.0,961.8 L553.5,958.3 L553.5,896.2 L553.3,893.9 L552.1,890.7 L550.8,888.8 L548.2,886.5 L546.2,885.4 L542.9,884.6 L540.6,884.7 L538.3,885.2 L441.5,916.9 L438.4,918.5 L436.6,920.1 L435.2,922.0 L434.2,924.1 L433.6,926.4 L433.0,947.6 L433.7,950.8 L434.7,952.8 L436.0,954.5 L437.6,956.0 L439.4,957.2Z M345.2,898.0 L343.2,900.5 L342.0,903.6 L338.1,919.8 L337.8,921.9 L337.9,924.1 L338.4,926.2 L352.7,969.6 L354.3,972.8 L356.8,975.3 L359.9,977.0 L378.0,983.1 L381.2,983.5 L384.4,982.8 L387.3,981.4 L421.3,957.5 L423.9,955.0 L425.6,951.9 L426.2,948.3 L427.0,921.9 L426.8,919.8 L426.3,917.7 L424.8,914.9 L393.0,870.3 L390.6,867.8 L387.5,866.2 L384.1,865.5 L380.6,865.9 L377.4,867.3 L375.6,868.7Z M238.6,945.0 L239.4,942.8 L239.7,939.4 L234.7,854.4 L233.6,850.9 L226.6,837.6 L225.4,835.6 L222.9,833.3 L219.8,831.8 L217.5,831.4 L182.9,831.3 L179.5,831.8 L177.4,832.7 L174.7,834.7 L173.3,836.5 L171.8,839.5 L171.3,842.9 L171.3,942.9 L171.8,946.3 L172.7,948.5 L174.0,950.4 L176.6,952.6 L178.6,953.7 L180.8,954.3 L225.5,957.8 L228.9,957.2 L231.0,956.2 L232.9,954.9 L235.1,952.2Z M386.0,1102.5 L386.8,1104.6 L388.8,1107.3 L390.6,1108.8 L392.6,1109.8 L423.7,1119.5 L427.2,1119.7 L430.5,1118.8 L432.6,1117.7 L435.1,1115.4 L460.0,1083.5 L461.0,1081.6 L461.8,1078.4 L461.6,1075.1 L461.0,1073.0 L454.5,1060.5 L453.0,1058.6 L450.1,1056.6 L447.8,1055.7 L407.9,1044.9 L404.4,1044.5 L401.0,1045.1 L398.0,1046.7 L395.6,1049.2 L380.8,1069.0 L379.6,1071.0 L378.8,1073.3 L378.6,1075.7 L379.0,1079.2Z M243.3,1021.0 L245.3,1020.0 L247.1,1018.7 L248.6,1017.0 L249.7,1015.1 L250.7,1012.0 L250.8,1009.8 L250.5,1007.6 L249.8,1005.5 L234.8,971.4 L233.7,969.5 L231.4,967.0 L228.5,965.3 L225.2,964.6 L182.7,961.3 L180.4,961.6 L178.3,962.3 L176.3,963.3 L173.9,965.6 L172.2,968.5 L171.5,970.7 L171.3,972.9 L171.3,1031.5 L171.5,1033.7 L172.2,1035.9 L173.9,1038.8 L175.4,1040.4 L177.3,1041.6 L180.4,1042.8 L183.7,1043.1 L185.9,1042.7Z M393.8,1117.3 L390.4,1116.8 L387.0,1117.3 L384.8,1118.3 L382.1,1120.4 L339.4,1174.7 L338.4,1176.7 L337.7,1178.8 L337.6,1181.1 L337.8,1183.3 L338.5,1185.5 L339.6,1187.4 L341.0,1189.1 L342.8,1190.6 L345.8,1192.0 L349.1,1192.5 L430.1,1192.5 L432.3,1192.3 L435.4,1191.2 L437.3,1190.0 L439.6,1187.6 L440.7,1185.6 L441.4,1183.5 L441.7,1181.3 L441.5,1179.1 L430.2,1134.4 L428.8,1131.2 L426.5,1128.5 L423.5,1126.7Z M449.7,1183.8 L451.1,1187.0 L453.4,1189.7 L456.3,1191.5 L459.7,1192.4 L541.9,1192.5 L545.3,1192.0 L548.4,1190.5 L550.9,1188.2 L552.1,1186.4 L553.0,1184.3 L553.5,1180.9 L553.5,1120.4 L553.0,1117.2 L551.7,1114.2 L550.3,1112.4 L548.6,1111.0 L545.7,1109.5 L476.9,1085.6 L473.7,1085.0 L471.5,1085.1 L469.3,1085.6 L466.4,1087.1 L464.0,1089.4 L438.6,1121.8 L437.3,1123.8 L436.2,1127.1 L436.1,1129.5 L436.5,1131.8Z M461.7,1048.8 L460.8,1050.9 L460.4,1053.1 L460.6,1056.4 L461.2,1058.6 L468.7,1073.1 L470.9,1075.5 L472.7,1076.8 L474.7,1077.7 L539.3,1100.1 L541.5,1100.4 L545.0,1100.0 L547.1,1099.1 L549.1,1097.9 L550.8,1096.3 L552.6,1093.3 L553.3,1091.1 L553.5,1088.8 L553.5,989.1 L553.0,985.9 L552.2,983.8 L551.0,981.9 L549.5,980.4 L546.7,978.6 L543.5,977.7 L540.2,977.7 L498.2,988.3 L496.0,989.1 L493.9,990.4 L492.2,992.1 L490.9,994.1Z M390.1,848.8 L389.9,851.0 L390.2,853.3 L391.4,856.4 L426.8,906.1 L429.2,908.5 L431.1,909.7 L433.2,910.5 L435.4,910.9 L437.6,910.9 L439.8,910.4 L545.5,875.7 L548.5,874.3 L551.0,872.0 L552.6,869.1 L553.4,865.9 L553.5,842.9 L553.0,839.5 L551.5,836.5 L549.3,833.9 L546.4,832.2 L543.1,831.4 L401.6,831.4 L399.4,831.8 L397.2,832.7 L394.5,834.8 L393.0,836.7 L391.6,839.8Z M253.5,831.3 L250.2,831.8 L247.2,833.2 L244.7,835.4 L243.4,837.3 L242.5,839.3 L242.0,842.7 L242.4,846.0 L243.7,849.0 L245.1,850.8 L246.8,852.3 L248.7,853.4 L331.9,891.3 L335.2,892.2 L337.5,892.3 L339.8,891.9 L341.9,891.1 L343.9,889.9 L379.8,855.3 L381.4,853.4 L382.6,851.3 L383.2,848.9 L384.0,843.7 L384.0,841.5 L383.5,839.3 L382.6,837.3 L381.3,835.4 L379.7,833.9 L377.9,832.6 L375.8,831.8 L373.6,831.4Z M310.7,1167.7 L311.5,1171.0 L313.2,1174.0 L314.8,1175.7 L317.8,1177.5 L321.2,1178.3 L323.5,1178.3 L326.8,1177.4 L329.7,1175.6 L331.3,1173.9 L378.2,1114.2 L379.2,1112.2 L379.9,1110.1 L380.0,1106.8 L379.6,1104.6 L373.1,1083.1 L371.5,1080.2 L369.1,1078.0 L366.2,1076.5 L362.9,1075.9 L315.5,1073.8 L313.2,1074.1 L311.0,1074.9 L308.2,1076.9 L306.7,1078.6 L305.5,1080.6 L304.8,1082.8 L304.6,1086.2Z M251.2,944.7 L248.9,945.4 L246.9,946.6 L245.1,948.2 L243.7,950.0 L240.3,957.2 L239.5,959.3 L239.2,961.4 L239.5,964.7 L240.1,966.8 L261.2,1014.5 L262.7,1016.5 L264.6,1018.2 L268.8,1021.1 L271.0,1022.1 L273.2,1022.6 L275.5,1022.6 L277.8,1022.2 L280.9,1020.7 L340.5,981.2 L343.0,978.9 L344.3,977.0 L345.2,974.8 L345.6,971.4 L345.0,968.0 L334.5,936.0 L332.7,933.1 L331.0,931.5 L329.1,930.3 L327.0,929.5 L324.8,929.1 L321.4,929.3Z M171.3,1180.9 L171.8,1184.3 L172.7,1186.4 L173.9,1188.2 L175.5,1189.8 L177.4,1191.1 L180.6,1192.2 L182.9,1192.5 L246.3,1192.5 L248.5,1192.2 L250.7,1191.6 L252.7,1190.5 L254.5,1189.1 L255.9,1187.3 L257.0,1185.3 L257.6,1183.1 L257.8,1180.8 L257.3,1177.5 L256.4,1175.4 L225.4,1118.4 L223.4,1115.7 L220.7,1113.7 L217.5,1112.6 L182.9,1109.2 L180.6,1109.4 L178.5,1110.0 L175.5,1111.8 L173.3,1114.3 L172.2,1116.3 L171.5,1118.5 L171.3,1120.7Z" stroke="#a9c6e2" stroke-width="5.6"/>
<path d="M293.4,1192.5 L295.6,1192.3 L297.8,1191.6 L299.7,1190.6 L301.5,1189.2 L302.9,1187.5 L304.0,1185.5 L304.7,1183.4 L304.9,1181.2 L297.0,1075.0 L296.3,1071.8 L294.7,1069.0 L287.5,1061.0 L285.6,1059.7 L283.5,1058.7 L280.2,1058.1 L277.9,1058.2 L275.7,1058.8 L273.6,1059.8 L271.0,1062.0 L234.0,1104.2 L232.6,1106.2 L231.7,1108.3 L231.2,1110.6 L231.2,1112.9 L231.6,1115.2 L232.5,1117.4 L270.1,1186.4 L271.3,1188.3 L272.9,1189.9 L274.8,1191.1 L278.0,1192.3 L280.2,1192.5Z M298.2,1062.8 L299.9,1064.3 L301.9,1065.5 L304.0,1066.2 L306.3,1066.6 L367.0,1069.3 L370.3,1068.6 L372.4,1067.6 L374.2,1066.3 L375.7,1064.6 L391.7,1043.1 L393.2,1040.2 L393.9,1037.0 L393.9,1034.9 L393.4,1032.7 L382.1,996.7 L381.2,994.7 L380.1,992.9 L378.6,991.4 L375.8,989.6 L357.7,983.3 L354.2,982.7 L351.9,982.9 L349.6,983.5 L347.5,984.6 L284.4,1026.6 L282.8,1028.2 L281.5,1030.0 L280.6,1032.1 L280.2,1034.3 L280.3,1037.7 L282.1,1043.9 L283.1,1045.8 L284.3,1047.5Z M444.4,1047.8 L447.7,1048.2 L451.0,1047.7 L453.0,1046.8 L454.9,1045.5 L457.1,1043.0 L480.8,998.6 L481.7,996.5 L482.1,994.2 L481.9,990.8 L481.2,988.6 L480.1,986.6 L477.7,984.1 L475.8,982.8 L434.8,962.5 L431.5,961.7 L428.2,962.0 L426.0,962.7 L424.0,963.8 L393.0,985.7 L391.5,987.3 L389.8,990.2 L389.0,993.5 L389.2,996.8 L399.7,1030.2 L400.6,1032.3 L402.7,1035.1 L405.5,1037.0 L407.7,1037.9Z M245.6,925.3 L246.0,927.5 L246.7,929.6 L247.8,931.5 L249.3,933.2 L251.1,934.5 L253.1,935.5 L255.2,936.1 L257.4,936.2 L259.6,936.0 L324.0,921.9 L326.2,921.2 L328.3,920.0 L330.0,918.4 L331.4,916.6 L332.4,914.4 L333.8,908.6 L333.9,906.4 L333.6,904.1 L332.8,902.0 L331.6,900.0 L329.1,897.7 L327.2,896.5 L259.1,865.5 L257.0,864.8 L254.8,864.5 L251.4,864.9 L248.3,866.2 L245.7,868.4 L243.9,871.2 L242.9,874.5 L242.8,876.7Z M171.3,1090.7 L171.8,1094.1 L172.7,1096.2 L173.9,1098.1 L175.5,1099.7 L177.4,1100.9 L180.6,1102.1 L218.4,1105.8 L221.7,1105.4 L224.6,1104.0 L227.1,1101.9 L272.3,1050.2 L273.9,1047.1 L274.4,1044.9 L274.4,1042.6 L272.5,1035.1 L271.1,1032.1 L269.0,1029.6 L263.8,1025.9 L261.8,1024.8 L258.6,1023.8 L256.3,1023.8 L254.1,1024.1 L178.8,1052.6 L176.7,1053.7 L174.9,1055.1 L172.8,1057.9 L171.8,1060.0 L171.4,1062.3Z M487.5,981.2 L489.7,982.0 L492.1,982.4 L495.5,982.0 L544.8,969.5 L547.0,968.7 L549.0,967.5 L551.4,965.0 L553.0,961.8 L553.5,958.3 L553.5,896.2 L553.3,893.9 L552.1,890.7 L550.8,888.8 L548.2,886.5 L546.2,885.4 L542.9,884.6 L540.6,884.7 L538.3,885.2 L441.5,916.9 L438.4,918.5 L436.6,920.1 L435.2,922.0 L434.2,924.1 L433.6,926.4 L433.0,947.6 L433.7,950.8 L434.7,952.8 L436.0,954.5 L437.6,956.0 L439.4,957.2Z M345.2,898.0 L343.2,900.5 L342.0,903.6 L338.1,919.8 L337.8,921.9 L337.9,924.1 L338.4,926.2 L352.7,969.6 L354.3,972.8 L356.8,975.3 L359.9,977.0 L378.0,983.1 L381.2,983.5 L384.4,982.8 L387.3,981.4 L421.3,957.5 L423.9,955.0 L425.6,951.9 L426.2,948.3 L427.0,921.9 L426.8,919.8 L426.3,917.7 L424.8,914.9 L393.0,870.3 L390.6,867.8 L387.5,866.2 L384.1,865.5 L380.6,865.9 L377.4,867.3 L375.6,868.7Z M238.6,945.0 L239.4,942.8 L239.7,939.4 L234.7,854.4 L233.6,850.9 L226.6,837.6 L225.4,835.6 L222.9,833.3 L219.8,831.8 L217.5,831.4 L182.9,831.3 L179.5,831.8 L177.4,832.7 L174.7,834.7 L173.3,836.5 L171.8,839.5 L171.3,842.9 L171.3,942.9 L171.8,946.3 L172.7,948.5 L174.0,950.4 L176.6,952.6 L178.6,953.7 L180.8,954.3 L225.5,957.8 L228.9,957.2 L231.0,956.2 L232.9,954.9 L235.1,952.2Z M386.0,1102.5 L386.8,1104.6 L388.8,1107.3 L390.6,1108.8 L392.6,1109.8 L423.7,1119.5 L427.2,1119.7 L430.5,1118.8 L432.6,1117.7 L435.1,1115.4 L460.0,1083.5 L461.0,1081.6 L461.8,1078.4 L461.6,1075.1 L461.0,1073.0 L454.5,1060.5 L453.0,1058.6 L450.1,1056.6 L447.8,1055.7 L407.9,1044.9 L404.4,1044.5 L401.0,1045.1 L398.0,1046.7 L395.6,1049.2 L380.8,1069.0 L379.6,1071.0 L378.8,1073.3 L378.6,1075.7 L379.0,1079.2Z M243.3,1021.0 L245.3,1020.0 L247.1,1018.7 L248.6,1017.0 L249.7,1015.1 L250.7,1012.0 L250.8,1009.8 L250.5,1007.6 L249.8,1005.5 L234.8,971.4 L233.7,969.5 L231.4,967.0 L228.5,965.3 L225.2,964.6 L182.7,961.3 L180.4,961.6 L178.3,962.3 L176.3,963.3 L173.9,965.6 L172.2,968.5 L171.5,970.7 L171.3,972.9 L171.3,1031.5 L171.5,1033.7 L172.2,1035.9 L173.9,1038.8 L175.4,1040.4 L177.3,1041.6 L180.4,1042.8 L183.7,1043.1 L185.9,1042.7Z M393.8,1117.3 L390.4,1116.8 L387.0,1117.3 L384.8,1118.3 L382.1,1120.4 L339.4,1174.7 L338.4,1176.7 L337.7,1178.8 L337.6,1181.1 L337.8,1183.3 L338.5,1185.5 L339.6,1187.4 L341.0,1189.1 L342.8,1190.6 L345.8,1192.0 L349.1,1192.5 L430.1,1192.5 L432.3,1192.3 L435.4,1191.2 L437.3,1190.0 L439.6,1187.6 L440.7,1185.6 L441.4,1183.5 L441.7,1181.3 L441.5,1179.1 L430.2,1134.4 L428.8,1131.2 L426.5,1128.5 L423.5,1126.7Z M449.7,1183.8 L451.1,1187.0 L453.4,1189.7 L456.3,1191.5 L459.7,1192.4 L541.9,1192.5 L545.3,1192.0 L548.4,1190.5 L550.9,1188.2 L552.1,1186.4 L553.0,1184.3 L553.5,1180.9 L553.5,1120.4 L553.0,1117.2 L551.7,1114.2 L550.3,1112.4 L548.6,1111.0 L545.7,1109.5 L476.9,1085.6 L473.7,1085.0 L471.5,1085.1 L469.3,1085.6 L466.4,1087.1 L464.0,1089.4 L438.6,1121.8 L437.3,1123.8 L436.2,1127.1 L436.1,1129.5 L436.5,1131.8Z M461.7,1048.8 L460.8,1050.9 L460.4,1053.1 L460.6,1056.4 L461.2,1058.6 L468.7,1073.1 L470.9,1075.5 L472.7,1076.8 L474.7,1077.7 L539.3,1100.1 L541.5,1100.4 L545.0,1100.0 L547.1,1099.1 L549.1,1097.9 L550.8,1096.3 L552.6,1093.3 L553.3,1091.1 L553.5,1088.8 L553.5,989.1 L553.0,985.9 L552.2,983.8 L551.0,981.9 L549.5,980.4 L546.7,978.6 L543.5,977.7 L540.2,977.7 L498.2,988.3 L496.0,989.1 L493.9,990.4 L492.2,992.1 L490.9,994.1Z M390.1,848.8 L389.9,851.0 L390.2,853.3 L391.4,856.4 L426.8,906.1 L429.2,908.5 L431.1,909.7 L433.2,910.5 L435.4,910.9 L437.6,910.9 L439.8,910.4 L545.5,875.7 L548.5,874.3 L551.0,872.0 L552.6,869.1 L553.4,865.9 L553.5,842.9 L553.0,839.5 L551.5,836.5 L549.3,833.9 L546.4,832.2 L543.1,831.4 L401.6,831.4 L399.4,831.8 L397.2,832.7 L394.5,834.8 L393.0,836.7 L391.6,839.8Z M253.5,831.3 L250.2,831.8 L247.2,833.2 L244.7,835.4 L243.4,837.3 L242.5,839.3 L242.0,842.7 L242.4,846.0 L243.7,849.0 L245.1,850.8 L246.8,852.3 L248.7,853.4 L331.9,891.3 L335.2,892.2 L337.5,892.3 L339.8,891.9 L341.9,891.1 L343.9,889.9 L379.8,855.3 L381.4,853.4 L382.6,851.3 L383.2,848.9 L384.0,843.7 L384.0,841.5 L383.5,839.3 L382.6,837.3 L381.3,835.4 L379.7,833.9 L377.9,832.6 L375.8,831.8 L373.6,831.4Z M310.7,1167.7 L311.5,1171.0 L313.2,1174.0 L314.8,1175.7 L317.8,1177.5 L321.2,1178.3 L323.5,1178.3 L326.8,1177.4 L329.7,1175.6 L331.3,1173.9 L378.2,1114.2 L379.2,1112.2 L379.9,1110.1 L380.0,1106.8 L379.6,1104.6 L373.1,1083.1 L371.5,1080.2 L369.1,1078.0 L366.2,1076.5 L362.9,1075.9 L315.5,1073.8 L313.2,1074.1 L311.0,1074.9 L308.2,1076.9 L306.7,1078.6 L305.5,1080.6 L304.8,1082.8 L304.6,1086.2Z M251.2,944.7 L248.9,945.4 L246.9,946.6 L245.1,948.2 L243.7,950.0 L240.3,957.2 L239.5,959.3 L239.2,961.4 L239.5,964.7 L240.1,966.8 L261.2,1014.5 L262.7,1016.5 L264.6,1018.2 L268.8,1021.1 L271.0,1022.1 L273.2,1022.6 L275.5,1022.6 L277.8,1022.2 L280.9,1020.7 L340.5,981.2 L343.0,978.9 L344.3,977.0 L345.2,974.8 L345.6,971.4 L345.0,968.0 L334.5,936.0 L332.7,933.1 L331.0,931.5 L329.1,930.3 L327.0,929.5 L324.8,929.1 L321.4,929.3Z M171.3,1180.9 L171.8,1184.3 L172.7,1186.4 L173.9,1188.2 L175.5,1189.8 L177.4,1191.1 L180.6,1192.2 L182.9,1192.5 L246.3,1192.5 L248.5,1192.2 L250.7,1191.6 L252.7,1190.5 L254.5,1189.1 L255.9,1187.3 L257.0,1185.3 L257.6,1183.1 L257.8,1180.8 L257.3,1177.5 L256.4,1175.4 L225.4,1118.4 L223.4,1115.7 L220.7,1113.7 L217.5,1112.6 L182.9,1109.2 L180.6,1109.4 L178.5,1110.0 L175.5,1111.8 L173.3,1114.3 L172.2,1116.3 L171.5,1118.5 L171.3,1120.7Z" stroke="#0f2f5c" stroke-width="2.9"/>
</g>
<g clip-path="url(#strutclip)">
<rect x="205" y="865" width="295" height="275" fill="#e4effa"/>
<path d="M353.7,906.6 L351.4,906.2 L348.4,906.8 L346.4,908.0 L344.8,909.7 L329.4,945.0 L329.0,947.2 L329.3,949.5 L333.1,957.6 L335.0,960.0 L336.9,961.2 L338.4,961.8 L340.7,962.0 L342.9,961.5 L345.6,960.0 L347.0,958.2 L366.5,918.5 L366.8,916.2 L366.4,914.0 L365.7,912.5 L364.3,910.7 L361.8,909.0Z M385.1,921.5 L382.3,919.9 L379.1,919.6 L376.8,920.2 L375.4,921.0 L373.2,923.3 L349.6,971.2 L348.9,973.5 L348.8,975.0 L349.0,976.6 L349.9,978.8 L351.4,980.7 L353.3,982.0 L383.1,992.5 L386.1,993.0 L388.4,992.5 L389.8,991.9 L391.1,991.0 L392.5,989.2 L413.8,954.4 L414.7,952.2 L415.0,949.8 L414.1,946.7 L412.7,944.7Z M351.7,990.3 L348.6,989.9 L346.4,990.3 L344.3,991.4 L342.2,993.7 L341.3,995.8 L336.4,1014.4 L336.1,1016.0 L336.2,1017.7 L336.7,1019.3 L363.7,1089.1 L365.0,1090.9 L367.5,1092.7 L370.4,1093.4 L372.7,1093.3 L396.4,1085.4 L398.3,1084.1 L399.4,1083.0 L400.5,1081.1 L401.0,1079.6 L401.0,1076.5 L387.6,1007.2 L386.9,1005.1 L386.1,1003.8 L384.4,1002.3 L383.1,1001.5Z M269.2,952.5 L266.4,953.9 L264.7,955.6 L263.7,957.7 L263.3,960.8 L275.1,1029.0 L276.2,1031.0 L277.9,1032.6 L280.0,1033.7 L281.5,1034.0 L299.3,1032.9 L301.7,1032.4 L325.4,1016.7 L326.7,1015.7 L327.7,1014.4 L328.7,1012.1 L336.0,984.7 L336.2,982.2 L335.7,979.8 L322.3,952.9 L320.7,951.1 L318.7,949.8 L302.6,944.6 L299.5,944.3Z M430.1,955.1 L427.1,954.4 L424.8,954.6 L422.6,955.5 L420.3,957.5 L396.9,995.7 L396.0,997.9 L395.7,999.5 L396.0,1001.9 L396.6,1003.4 L415.1,1041.1 L416.0,1042.4 L417.7,1043.8 L419.8,1044.7 L421.3,1044.9 L424.3,1044.6 L473.0,1028.8 L475.0,1027.6 L476.1,1026.5 L477.2,1024.5 L477.8,1022.3 L477.8,982.4 L477.2,979.4 L476.1,977.4 L474.5,975.9 L473.2,975.1Z M388.0,902.7 L386.1,905.2 L385.3,908.3 L385.9,911.5 L387.1,913.5 L388.2,914.7 L411.5,934.1 L414.5,935.0 L416.8,935.0 L419.7,933.8 L421.4,932.3 L422.3,931.0 L423.2,928.9 L428.2,906.9 L428.2,903.7 L427.8,902.2 L426.6,900.1 L414.4,887.9 L412.3,886.7 L409.9,886.1 L407.5,886.3 L405.3,887.2Z M256.1,946.7 L258.6,947.2 L261.0,946.9 L300.1,936.2 L301.9,936.5 L315.8,940.8 L317.4,940.8 L319.7,940.3 L322.3,938.6 L324.1,936.0 L339.0,901.6 L339.6,899.4 L339.5,896.4 L335.1,878.8 L334.1,876.6 L333.2,875.4 L331.4,873.9 L329.9,873.2 L327.6,872.8 L326.0,872.9 L275.3,886.4 L273.7,887.2 L238.8,910.7 L237.4,912.4 L228.9,927.5 L228.4,929.0 L228.2,931.3 L228.9,934.3 L230.2,936.2 L232.7,938.0Z M226.8,943.9 L224.5,943.5 L221.4,943.9 L219.4,944.9 L217.7,946.5 L206.8,968.0 L206.1,970.3 L206.1,972.8 L206.5,974.4 L215.9,999.5 L217.6,1002.2 L219.4,1003.7 L253.9,1023.3 L255.3,1024.0 L257.6,1024.4 L260.7,1023.9 L262.7,1022.7 L264.3,1021.0 L265.4,1018.9 L265.8,1015.8 L255.7,957.6 L254.2,955.0 L251.7,953.2Z M285.1,1041.1 L282.8,1041.6 L280.2,1043.3 L278.4,1045.8 L277.7,1048.9 L282.5,1112.8 L282.9,1115.0 L284.0,1117.0 L286.3,1119.0 L289.1,1120.1 L343.4,1129.4 L346.5,1129.3 L349.3,1128.1 L351.4,1126.0 L352.4,1123.9 L358.6,1104.0 L359.0,1101.8 L358.9,1100.2 L332.6,1032.2 L331.5,1030.1 L329.7,1028.5 L327.6,1027.5 L325.3,1027.1 L323.7,1027.2 L320.8,1028.4 L303.9,1039.6 L302.6,1039.9Z M468.7,1037.4 L429.6,1050.1 L427.8,1051.5 L426.1,1054.0 L425.5,1057.0 L426.0,1060.0 L444.2,1088.9 L446.4,1091.1 L449.2,1092.4 L452.3,1092.5 L473.7,1088.9 L475.8,1088.0 L478.0,1085.9 L479.3,1083.2 L479.6,1080.9 L478.3,1044.9 L477.6,1041.9 L476.4,1039.9 L475.3,1038.9 L473.9,1038.0 L471.7,1037.3Z M423.2,1068.4 L421.1,1066.1 L419.0,1065.1 L416.6,1064.7 L414.3,1065.0 L411.5,1066.5 L409.9,1068.2 L408.9,1070.3 L408.5,1072.6 L410.9,1086.1 L414.3,1107.4 L415.4,1109.5 L417.2,1111.1 L419.3,1112.2 L421.7,1112.6 L424.8,1112.0 L427.4,1110.3 L437.1,1100.5 L438.6,1097.8 L439.0,1095.5 L438.7,1093.3 L437.7,1091.2Z M347.3,891.3 L348.1,893.4 L350.1,895.7 L352.0,896.8 L355.5,897.7 L358.6,897.4 L360.8,896.3 L362.5,894.7 L363.7,892.6 L364.2,890.3 L364.0,887.9 L359.9,875.8 L358.4,873.2 L356.7,871.7 L355.3,871.0 L352.3,870.4 L349.1,871.1 L346.5,872.9 L344.8,875.6 L344.3,877.9 L344.4,879.6Z M373.0,885.0 L374.9,890.7 L376.4,892.5 L379.1,894.2 L382.2,894.6 L385.2,893.9 L386.6,893.1 L389.3,890.6 L391.2,888.2 L391.9,885.1 L391.9,883.6 L391.2,881.4 L389.4,878.8 L386.7,877.2 L381.3,875.9 L379.8,876.0 L377.5,876.7 L376.2,877.5 L374.5,879.1 L373.2,881.9Z M442.7,906.3 L440.3,906.3 L437.4,907.4 L435.6,908.9 L434.0,911.7 L427.5,940.3 L427.7,943.4 L429.1,946.2 L430.1,947.3 L432.1,948.6 L480.1,970.8 L481.7,971.2 L484.1,971.2 L490.8,969.9 L493.6,968.5 L495.2,966.8 L496.2,964.6 L496.6,962.3 L496.3,960.0 L478.4,915.2 L477.3,913.2 L475.0,911.3 L472.8,910.4Z M370.4,1102.9 L367.7,1104.4 L365.9,1106.7 L361.7,1119.7 L361.7,1122.8 L362.5,1125.1 L363.9,1127.0 L365.8,1128.4 L368.0,1129.2 L370.3,1129.3 L402.1,1125.9 L405.0,1124.7 L406.2,1123.6 L407.6,1121.7 L408.2,1120.1 L408.4,1117.7 L405.8,1100.2 L405.3,1098.7 L404.0,1096.8 L401.5,1094.9 L399.3,1094.2 L396.3,1094.3Z M235.4,1020.6 L233.3,1019.7 L231.0,1019.5 L228.7,1020.0 L227.3,1020.7 L225.5,1022.2 L224.3,1024.1 L223.7,1025.5 L223.5,1027.8 L237.7,1086.6 L238.9,1088.7 L240.6,1090.4 L262.3,1105.9 L264.4,1106.7 L266.0,1106.9 L269.1,1106.4 L271.1,1105.2 L272.8,1103.5 L273.8,1101.4 L274.2,1099.1 L270.2,1044.4 L269.6,1042.2 L268.5,1040.1 L266.2,1038.1Z M487.9,978.6 L486.4,979.5 L485.8,981.1 L485.9,1024.3 L486.6,1025.6 L487.6,1026.2 L496.7,1027.9 L497.7,1027.9 L499.1,1027.0 L499.7,1025.4 L499.6,979.0 L498.8,977.5 L497.2,976.9Z M433.0,896.8 L434.6,898.3 L435.9,898.6 L437.6,898.2 L438.3,897.5 L438.7,896.6 L438.7,895.6 L438.3,894.7 L437.4,893.8 L435.8,893.2 L434.8,893.2 L433.9,893.5 L433.0,894.4 L432.7,895.6Z" fill="none" stroke="#4d80b4" stroke-width="5.2" stroke-linejoin="round" filter="url(#sgblur4)"/>
<path d="M353.7,906.6 L351.4,906.2 L348.4,906.8 L346.4,908.0 L344.8,909.7 L329.4,945.0 L329.0,947.2 L329.3,949.5 L333.1,957.6 L335.0,960.0 L336.9,961.2 L338.4,961.8 L340.7,962.0 L342.9,961.5 L345.6,960.0 L347.0,958.2 L366.5,918.5 L366.8,916.2 L366.4,914.0 L365.7,912.5 L364.3,910.7 L361.8,909.0Z M385.1,921.5 L382.3,919.9 L379.1,919.6 L376.8,920.2 L375.4,921.0 L373.2,923.3 L349.6,971.2 L348.9,973.5 L348.8,975.0 L349.0,976.6 L349.9,978.8 L351.4,980.7 L353.3,982.0 L383.1,992.5 L386.1,993.0 L388.4,992.5 L389.8,991.9 L391.1,991.0 L392.5,989.2 L413.8,954.4 L414.7,952.2 L415.0,949.8 L414.1,946.7 L412.7,944.7Z M351.7,990.3 L348.6,989.9 L346.4,990.3 L344.3,991.4 L342.2,993.7 L341.3,995.8 L336.4,1014.4 L336.1,1016.0 L336.2,1017.7 L336.7,1019.3 L363.7,1089.1 L365.0,1090.9 L367.5,1092.7 L370.4,1093.4 L372.7,1093.3 L396.4,1085.4 L398.3,1084.1 L399.4,1083.0 L400.5,1081.1 L401.0,1079.6 L401.0,1076.5 L387.6,1007.2 L386.9,1005.1 L386.1,1003.8 L384.4,1002.3 L383.1,1001.5Z M269.2,952.5 L266.4,953.9 L264.7,955.6 L263.7,957.7 L263.3,960.8 L275.1,1029.0 L276.2,1031.0 L277.9,1032.6 L280.0,1033.7 L281.5,1034.0 L299.3,1032.9 L301.7,1032.4 L325.4,1016.7 L326.7,1015.7 L327.7,1014.4 L328.7,1012.1 L336.0,984.7 L336.2,982.2 L335.7,979.8 L322.3,952.9 L320.7,951.1 L318.7,949.8 L302.6,944.6 L299.5,944.3Z M430.1,955.1 L427.1,954.4 L424.8,954.6 L422.6,955.5 L420.3,957.5 L396.9,995.7 L396.0,997.9 L395.7,999.5 L396.0,1001.9 L396.6,1003.4 L415.1,1041.1 L416.0,1042.4 L417.7,1043.8 L419.8,1044.7 L421.3,1044.9 L424.3,1044.6 L473.0,1028.8 L475.0,1027.6 L476.1,1026.5 L477.2,1024.5 L477.8,1022.3 L477.8,982.4 L477.2,979.4 L476.1,977.4 L474.5,975.9 L473.2,975.1Z M388.0,902.7 L386.1,905.2 L385.3,908.3 L385.9,911.5 L387.1,913.5 L388.2,914.7 L411.5,934.1 L414.5,935.0 L416.8,935.0 L419.7,933.8 L421.4,932.3 L422.3,931.0 L423.2,928.9 L428.2,906.9 L428.2,903.7 L427.8,902.2 L426.6,900.1 L414.4,887.9 L412.3,886.7 L409.9,886.1 L407.5,886.3 L405.3,887.2Z M256.1,946.7 L258.6,947.2 L261.0,946.9 L300.1,936.2 L301.9,936.5 L315.8,940.8 L317.4,940.8 L319.7,940.3 L322.3,938.6 L324.1,936.0 L339.0,901.6 L339.6,899.4 L339.5,896.4 L335.1,878.8 L334.1,876.6 L333.2,875.4 L331.4,873.9 L329.9,873.2 L327.6,872.8 L326.0,872.9 L275.3,886.4 L273.7,887.2 L238.8,910.7 L237.4,912.4 L228.9,927.5 L228.4,929.0 L228.2,931.3 L228.9,934.3 L230.2,936.2 L232.7,938.0Z M226.8,943.9 L224.5,943.5 L221.4,943.9 L219.4,944.9 L217.7,946.5 L206.8,968.0 L206.1,970.3 L206.1,972.8 L206.5,974.4 L215.9,999.5 L217.6,1002.2 L219.4,1003.7 L253.9,1023.3 L255.3,1024.0 L257.6,1024.4 L260.7,1023.9 L262.7,1022.7 L264.3,1021.0 L265.4,1018.9 L265.8,1015.8 L255.7,957.6 L254.2,955.0 L251.7,953.2Z M285.1,1041.1 L282.8,1041.6 L280.2,1043.3 L278.4,1045.8 L277.7,1048.9 L282.5,1112.8 L282.9,1115.0 L284.0,1117.0 L286.3,1119.0 L289.1,1120.1 L343.4,1129.4 L346.5,1129.3 L349.3,1128.1 L351.4,1126.0 L352.4,1123.9 L358.6,1104.0 L359.0,1101.8 L358.9,1100.2 L332.6,1032.2 L331.5,1030.1 L329.7,1028.5 L327.6,1027.5 L325.3,1027.1 L323.7,1027.2 L320.8,1028.4 L303.9,1039.6 L302.6,1039.9Z M468.7,1037.4 L429.6,1050.1 L427.8,1051.5 L426.1,1054.0 L425.5,1057.0 L426.0,1060.0 L444.2,1088.9 L446.4,1091.1 L449.2,1092.4 L452.3,1092.5 L473.7,1088.9 L475.8,1088.0 L478.0,1085.9 L479.3,1083.2 L479.6,1080.9 L478.3,1044.9 L477.6,1041.9 L476.4,1039.9 L475.3,1038.9 L473.9,1038.0 L471.7,1037.3Z M423.2,1068.4 L421.1,1066.1 L419.0,1065.1 L416.6,1064.7 L414.3,1065.0 L411.5,1066.5 L409.9,1068.2 L408.9,1070.3 L408.5,1072.6 L410.9,1086.1 L414.3,1107.4 L415.4,1109.5 L417.2,1111.1 L419.3,1112.2 L421.7,1112.6 L424.8,1112.0 L427.4,1110.3 L437.1,1100.5 L438.6,1097.8 L439.0,1095.5 L438.7,1093.3 L437.7,1091.2Z M347.3,891.3 L348.1,893.4 L350.1,895.7 L352.0,896.8 L355.5,897.7 L358.6,897.4 L360.8,896.3 L362.5,894.7 L363.7,892.6 L364.2,890.3 L364.0,887.9 L359.9,875.8 L358.4,873.2 L356.7,871.7 L355.3,871.0 L352.3,870.4 L349.1,871.1 L346.5,872.9 L344.8,875.6 L344.3,877.9 L344.4,879.6Z M373.0,885.0 L374.9,890.7 L376.4,892.5 L379.1,894.2 L382.2,894.6 L385.2,893.9 L386.6,893.1 L389.3,890.6 L391.2,888.2 L391.9,885.1 L391.9,883.6 L391.2,881.4 L389.4,878.8 L386.7,877.2 L381.3,875.9 L379.8,876.0 L377.5,876.7 L376.2,877.5 L374.5,879.1 L373.2,881.9Z M442.7,906.3 L440.3,906.3 L437.4,907.4 L435.6,908.9 L434.0,911.7 L427.5,940.3 L427.7,943.4 L429.1,946.2 L430.1,947.3 L432.1,948.6 L480.1,970.8 L481.7,971.2 L484.1,971.2 L490.8,969.9 L493.6,968.5 L495.2,966.8 L496.2,964.6 L496.6,962.3 L496.3,960.0 L478.4,915.2 L477.3,913.2 L475.0,911.3 L472.8,910.4Z M370.4,1102.9 L367.7,1104.4 L365.9,1106.7 L361.7,1119.7 L361.7,1122.8 L362.5,1125.1 L363.9,1127.0 L365.8,1128.4 L368.0,1129.2 L370.3,1129.3 L402.1,1125.9 L405.0,1124.7 L406.2,1123.6 L407.6,1121.7 L408.2,1120.1 L408.4,1117.7 L405.8,1100.2 L405.3,1098.7 L404.0,1096.8 L401.5,1094.9 L399.3,1094.2 L396.3,1094.3Z M235.4,1020.6 L233.3,1019.7 L231.0,1019.5 L228.7,1020.0 L227.3,1020.7 L225.5,1022.2 L224.3,1024.1 L223.7,1025.5 L223.5,1027.8 L237.7,1086.6 L238.9,1088.7 L240.6,1090.4 L262.3,1105.9 L264.4,1106.7 L266.0,1106.9 L269.1,1106.4 L271.1,1105.2 L272.8,1103.5 L273.8,1101.4 L274.2,1099.1 L270.2,1044.4 L269.6,1042.2 L268.5,1040.1 L266.2,1038.1Z M487.9,978.6 L486.4,979.5 L485.8,981.1 L485.9,1024.3 L486.6,1025.6 L487.6,1026.2 L496.7,1027.9 L497.7,1027.9 L499.1,1027.0 L499.7,1025.4 L499.6,979.0 L498.8,977.5 L497.2,976.9Z M433.0,896.8 L434.6,898.3 L435.9,898.6 L437.6,898.2 L438.3,897.5 L438.7,896.6 L438.7,895.6 L438.3,894.7 L437.4,893.8 L435.8,893.2 L434.8,893.2 L433.9,893.5 L433.0,894.4 L432.7,895.6Z" fill="none" stroke="#0c2748" stroke-width="2.9" stroke-linejoin="round" filter="url(#sgblur2)"/>
</g>
</g>
<text x="360" y="1148.2" class="b" font-size="37.7" text-anchor="middle" filter="url(#tsh)">Sol-gel glass</text>
</svg>
</body></html>
